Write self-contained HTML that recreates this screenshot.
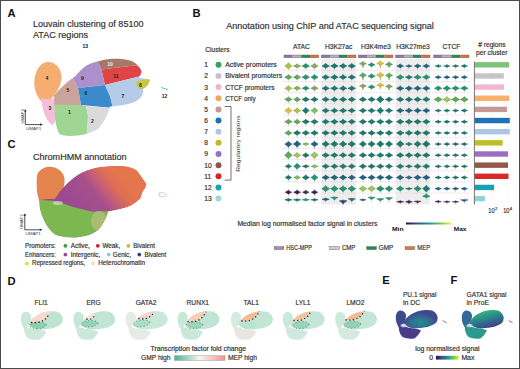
<!DOCTYPE html>
<html><head><meta charset="utf-8"><style>
html,body{margin:0;padding:0;background:#fff;}
body{width:520px;height:369px;overflow:hidden;}
svg{display:block;}
text{font-family:"Liberation Sans",sans-serif;}
</style></head><body>
<svg width="520" height="369" viewBox="0 0 520 369">
<rect x="0" y="0" width="520" height="369" fill="#fff"/>
<defs>
<linearGradient id="vir" x1="0" x2="1" y1="0" y2="0">
<stop offset="0" stop-color="#440154"/><stop offset="0.25" stop-color="#3b528b"/><stop offset="0.5" stop-color="#21918c"/><stop offset="0.75" stop-color="#5ec962"/><stop offset="1" stop-color="#fde725"/></linearGradient>
<linearGradient id="foldg" x1="0" x2="1" y1="0" y2="0">
<stop offset="0" stop-color="#48b288"/><stop offset="0.5" stop-color="#f5f6f2"/><stop offset="1" stop-color="#f0968a"/></linearGradient>
<radialGradient id="gE" cx="0.5" cy="0.68" r="0.5" fx="0.5" fy="0.7">
<stop offset="0" stop-color="#23908e"/><stop offset="0.45" stop-color="#2d7490"/><stop offset="1" stop-color="#3e4a8e"/></radialGradient>
<linearGradient id="gF" x1="0.25" x2="0.75" y1="0" y2="1">
<stop offset="0" stop-color="#52b878"/><stop offset="0.3" stop-color="#2aa082"/><stop offset="0.6" stop-color="#2f6f8e"/><stop offset="1" stop-color="#45357f"/></linearGradient>
<filter id="soft" x="-10%" y="-10%" width="120%" height="120%"><feGaussianBlur stdDeviation="0.7"/></filter>
<filter id="soft2" x="-10%" y="-10%" width="120%" height="120%"><feGaussianBlur stdDeviation="0.5"/></filter>
</defs>
<text x="7.6" y="17.2" font-size="11.2" font-weight="bold" fill="#111">A</text>
<text x="33" y="27" font-size="8.6" fill="#333" stroke="#333" stroke-width="0.18" textLength="110.5" lengthAdjust="spacingAndGlyphs">Louvain clustering of 85100</text>
<text x="33" y="37.5" font-size="8.6" fill="#333" stroke="#333" stroke-width="0.18" textLength="55" lengthAdjust="spacingAndGlyphs">ATAC regions</text>
<clipPath id="silA"><path d="M54,95.5 C60,88 68,81 75,76.5 C79,72 82,68.5 86,65.8 C90,63.5 94,62.2 98.5,61.2 C102,60.3 105,59.6 108,59.2 C116,58.5 124,58.8 130,60.5 C134,61.6 136,63.5 138,66 C140,68 141.5,70 141.5,72 C141,74 140,75.5 139,77.5 C142,78.6 146,78.5 149.5,79.5 C150,83 147,87 143,89 C144,93 142,97 138,100 C132,104 120,106 110,106.5 C108.5,113 105,121 99,128 C94,132 86,134.5 78,135.5 C70,136.5 63,136 59,134 C57.5,130 55.5,124 55,118 C54.8,110 54.3,102 54,95.5 Z"/></clipPath>
<g filter="url(#soft)">
<path d="M47.5,62 C55,61.5 61,68 61.5,76 C62,84 57,92 52,98 C49,101.5 46,103.5 43,103 C39,99 35,93 34.5,86 C33.5,76 38,62.5 47.5,62 Z" fill="#f6ad70"/>
<path d="M41.5,98 C46,99.5 52,99 57.5,98.5 C58.5,106 58,116 53,125.5 C47,122 44,114 42.5,107 C41.8,104 41.4,101 41.5,98 Z" fill="#f2c0d6"/>
<g clip-path="url(#silA)">
<polygon points="30,60 74,60 72,77 78,88 81,105 30,106" fill="#caa39c"/>
<polygon points="60,40 95,40 97,60 101.5,69.5 105,85 78,88 72,77" fill="#ab90cb"/>
<polygon points="95,40 170,40 170,63 134,65.5 101.5,69.5 97,60" fill="#a7776b"/>
<polygon points="101.5,69.5 134,65.5 170,63 170,76 139,76.5 105,85" fill="#e04545"/>
<polygon points="78,88 105,85 110,96 113,108 81,105" fill="#3b8bcc"/>
<polygon points="105,85 139,76.5 170,78 170,115 113,108 110,96" fill="#b5cce8"/>
<polygon points="30,104 81,105 86,106 88,116 87,140 30,140" fill="#9fd694"/>
<polygon points="86,106 113,108 140,110 140,140 87,140 88,116" fill="#dadadc"/>
<path d="M136,82 C140,80 146,78.5 150,79.5 C150,84 146,87.5 141,89.5 C138,88 136,85 136,82 Z" fill="#c9c640"/>
</g>
<path d="M161,87.5 L168,89.5" stroke="#6cc4d4" stroke-width="1"/>
</g>
<text x="85.3" y="47.7" font-size="5.0" font-weight="bold" text-anchor="middle" fill="#111">13</text>
<text x="47" y="79.5" font-size="5.0" font-weight="bold" text-anchor="middle" fill="#222">4</text>
<text x="50" y="109.5" font-size="5.0" font-weight="bold" text-anchor="middle" fill="#222">3</text>
<text x="69.5" y="113.5" font-size="5.0" font-weight="bold" text-anchor="middle" fill="#222">1</text>
<text x="68" y="91.5" font-size="5.0" font-weight="bold" text-anchor="middle" fill="#222">5</text>
<text x="82.5" y="79.8" font-size="5.0" font-weight="bold" text-anchor="middle" fill="#222">9</text>
<text x="86" y="95" font-size="5.0" font-weight="bold" text-anchor="middle" fill="#222">6</text>
<text x="92.5" y="122.5" font-size="5.0" font-weight="bold" text-anchor="middle" fill="#222">2</text>
<text x="110" y="66" font-size="5.0" font-weight="bold" text-anchor="middle" fill="#eee">10</text>
<text x="116" y="78" font-size="5.0" font-weight="bold" text-anchor="middle" fill="#222">11</text>
<text x="123" y="97.5" font-size="5.0" font-weight="bold" text-anchor="middle" fill="#222">7</text>
<text x="140.5" y="86.5" font-size="5.0" font-weight="bold" text-anchor="middle" fill="#222">8</text>
<text x="164.5" y="97.5" font-size="5.0" font-weight="bold" text-anchor="middle" fill="#222">12</text>
<path d="M25.3,109.6 L25.3,124.6 L42.3,124.6" fill="none" stroke="#222" stroke-width="0.8"/>
<path d="M24.0,111.6 L25.3,109.6 L26.6,111.6 Z" fill="#222"/>
<path d="M40.3,123.3 L42.3,124.6 L40.3,125.89999999999999 Z" fill="#222"/>
<text x="25.900000000000002" y="130.2" font-size="3.7" fill="#444" textLength="15.5" lengthAdjust="spacingAndGlyphs">UMAP1</text>
<text transform="translate(23.900000000000002,123.6) rotate(-90)" font-size="3.7" fill="#444" textLength="14.6" lengthAdjust="spacingAndGlyphs">UMAP2</text>
<text x="7.6" y="147.8" font-size="11.2" font-weight="bold" fill="#111">C</text>
<text x="33" y="159.8" font-size="8.6" fill="#333" stroke="#333" stroke-width="0.18" textLength="93.5" lengthAdjust="spacingAndGlyphs">ChromHMM annotation</text>
<clipPath id="silC"><path d="M55,198.5 C60,190 66,184 72,179 C78,174 85,170 92.5,168.4 C100,166.5 110,165.5 120,165.8 C128,166 134,168 137,170.5 C140,174 143,179 146.6,184 C146,188 144,190 143,191.3 C142,194 141.5,196 140.6,198.5 C137,202 134,204 131,205.7 C124,208.5 116,210.5 108,211.5 C107,216 104,223 99,229 C94,234 86,236.5 78,237.2 C70,237.8 62,237 56,235 C50,231 46,225 43,218 C40,211 39,205 39.6,199.7 C45,199 50,199 55,198.5 Z"/></clipPath>
<linearGradient id="gC" gradientUnits="userSpaceOnUse" x1="74" y1="208" x2="118" y2="172"><stop offset="0" stop-color="#9c4a92"/><stop offset="0.45" stop-color="#a6508c"/><stop offset="0.62" stop-color="#c45e78"/><stop offset="0.8" stop-color="#de6e54"/><stop offset="1" stop-color="#e4764e"/></linearGradient>
<g filter="url(#soft)">
<path d="M49.2,166.8 C56,166.6 62,170.5 64,176.5 C65.5,182 64,188 61.5,192 C59.5,196 57,199 55,201.5 C50,202.5 44,202.5 39.5,201.5 C37.5,196 36.8,191 36.8,186.4 C36.5,181 36.6,177 37.4,174 C40,169.5 44,166.9 49.2,166.8 Z" fill="#e4854f"/>
<g clip-path="url(#silC)">
<path d="M55,198.5 C60,190 66,184 72,179 C78,174 85,170 92.5,168.4 C100,166.5 110,165.5 120,165.8 C128,166 134,168 137,170.5 C140,174 143,179 146.6,184 C146,188 144,190 143,191.3 C142,194 141.5,196 140.6,198.5 C137,202 134,204 131,205.7 C124,208.5 116,210.5 108,211.5 C107,216 104,223 99,229 C94,234 86,236.5 78,237.2 C70,237.8 62,237 56,235 C50,231 46,225 43,218 C40,211 39,205 39.6,199.7 C45,199 50,199 55,198.5 Z" fill="url(#gC)"/>
<polygon points="30,199 55,200.9 73.3,207 92.5,211.7 112,211 112,245 30,245" fill="#7cb74f"/>
<ellipse cx="99" cy="221" rx="8" ry="10" fill="#a9bd72"/>
<ellipse cx="58" cy="203" rx="5" ry="2" fill="#eeeede" opacity="0.55"/>
</g></g>
<path d="M159,193 C162,192 165,193 167,195 C165,197 162,197 159,196 Z" fill="none" stroke="#d8b8a8" stroke-width="0.7"/>
<path d="M24.8,213.8 L24.8,229.8 L41.8,229.8" fill="none" stroke="#222" stroke-width="0.8"/>
<path d="M23.5,215.8 L24.8,213.8 L26.1,215.8 Z" fill="#222"/>
<path d="M39.8,228.5 L41.8,229.8 L39.8,231.10000000000002 Z" fill="#222"/>
<text x="25.400000000000002" y="235.4" font-size="3.7" fill="#444" textLength="15.5" lengthAdjust="spacingAndGlyphs">UMAP1</text>
<text transform="translate(23.400000000000002,228.8) rotate(-90)" font-size="3.7" fill="#444" textLength="14.6" lengthAdjust="spacingAndGlyphs">UMAP2</text>
<text x="25" y="247.8" font-size="6.3" fill="#333" stroke="#333" stroke-width="0.18" textLength="30.8" lengthAdjust="spacingAndGlyphs">Promoters:</text>
<text x="25" y="256.6" font-size="6.3" fill="#333" stroke="#333" stroke-width="0.18" textLength="30.8" lengthAdjust="spacingAndGlyphs">Enhancers:</text>
<circle cx="65.4" cy="245.8" r="1.9" fill="#3a9a40"/>
<text x="70.8" y="247.8" font-size="6.3" fill="#333" stroke="#333" stroke-width="0.18">Active,</text>
<circle cx="97.8" cy="245.8" r="1.9" fill="#d0202a"/>
<text x="102.5" y="247.8" font-size="6.3" fill="#333" stroke="#333" stroke-width="0.18">Weak,</text>
<circle cx="128.4" cy="245.8" r="1.9" fill="#d8b040"/>
<text x="133.3" y="247.8" font-size="6.3" fill="#333" stroke="#333" stroke-width="0.18" textLength="21.7" lengthAdjust="spacingAndGlyphs">Bivalent</text>
<circle cx="65.4" cy="254.60000000000002" r="1.9" fill="#a0409a"/>
<text x="70.8" y="256.6" font-size="6.3" fill="#333" stroke="#333" stroke-width="0.18">Intergenic,</text>
<circle cx="108.7" cy="254.60000000000002" r="1.9" fill="#8cc8d8"/>
<text x="112.8" y="256.6" font-size="6.3" fill="#333" stroke="#333" stroke-width="0.18">Genic,</text>
<circle cx="139.3" cy="254.60000000000002" r="1.9" fill="#283c90"/>
<text x="144.5" y="256.6" font-size="6.3" fill="#333" stroke="#333" stroke-width="0.18" textLength="21.7" lengthAdjust="spacingAndGlyphs">Bivalent</text>
<circle cx="26.8" cy="263.4" r="1.9" fill="#e8e020"/>
<text x="32" y="265.4" font-size="6.3" fill="#333" stroke="#333" stroke-width="0.18" textLength="53" lengthAdjust="spacingAndGlyphs">Repressed regions,</text>
<circle cx="93.2" cy="263.4" r="1.9" fill="#f8d8c8"/>
<text x="98.3" y="265.4" font-size="6.3" fill="#333" stroke="#333" stroke-width="0.18" textLength="46.7" lengthAdjust="spacingAndGlyphs">Heterochromatin</text>
<text x="192.5" y="17.3" font-size="11.2" font-weight="bold" fill="#111">B</text>
<text x="226.2" y="28.8" font-size="8.7" fill="#333" stroke="#333" stroke-width="0.18" textLength="207.6" lengthAdjust="spacingAndGlyphs">Annotation using ChIP and ATAC sequencing signal</text>
<text x="205.2" y="51.5" font-size="6.7" fill="#333" stroke="#333" stroke-width="0.18" textLength="24.4" lengthAdjust="spacingAndGlyphs">Clusters</text>
<rect x="321.3" y="58.8" width="34.69999999999999" height="145.7" fill="#eeeeee"/>
<rect x="395.8" y="58.8" width="34.19999999999999" height="145.7" fill="#eeeeee"/>
<line x1="283" y1="70.40" x2="470" y2="70.40" stroke="#efd9de" stroke-width="0.6"/>
<line x1="283" y1="81.55" x2="470" y2="81.55" stroke="#efd9de" stroke-width="0.6"/>
<line x1="283" y1="92.70" x2="470" y2="92.70" stroke="#efd9de" stroke-width="0.6"/>
<line x1="283" y1="103.85" x2="470" y2="103.85" stroke="#efd9de" stroke-width="0.6"/>
<line x1="283" y1="115.00" x2="470" y2="115.00" stroke="#efd9de" stroke-width="0.6"/>
<line x1="283" y1="126.15" x2="470" y2="126.15" stroke="#efd9de" stroke-width="0.6"/>
<line x1="283" y1="137.30" x2="470" y2="137.30" stroke="#efd9de" stroke-width="0.6"/>
<line x1="283" y1="148.45" x2="470" y2="148.45" stroke="#efd9de" stroke-width="0.6"/>
<line x1="283" y1="159.60" x2="470" y2="159.60" stroke="#efd9de" stroke-width="0.6"/>
<line x1="283" y1="170.75" x2="470" y2="170.75" stroke="#efd9de" stroke-width="0.6"/>
<line x1="283" y1="181.90" x2="470" y2="181.90" stroke="#efd9de" stroke-width="0.6"/>
<line x1="283" y1="193.05" x2="470" y2="193.05" stroke="#efd9de" stroke-width="0.6"/>
<text x="301.35" y="48.9" font-size="6.7" text-anchor="middle" fill="#333" stroke="#333" stroke-width="0.18">ATAC</text>
<rect x="284.00" y="55" width="8.67" height="2.8" fill="#8d7aa6"/>
<rect x="292.68" y="55" width="8.67" height="2.8" fill="#b7b0bd"/>
<rect x="301.35" y="55" width="8.67" height="2.8" fill="#1f8a5a"/>
<rect x="310.02" y="55" width="8.67" height="2.8" fill="#d8733a"/>
<rect x="284" y="55" width="34.70" height="2.8" fill="none" stroke="#6a6060" stroke-width="0.4"/>
<text x="338.65" y="48.9" font-size="6.7" text-anchor="middle" fill="#333" stroke="#333" stroke-width="0.18">H3K27ac</text>
<rect x="321.30" y="55" width="8.67" height="2.8" fill="#8d7aa6"/>
<rect x="329.98" y="55" width="8.67" height="2.8" fill="#b7b0bd"/>
<rect x="338.65" y="55" width="8.67" height="2.8" fill="#1f8a5a"/>
<rect x="347.32" y="55" width="8.67" height="2.8" fill="#d8733a"/>
<rect x="321.3" y="55" width="34.70" height="2.8" fill="none" stroke="#6a6060" stroke-width="0.4"/>
<text x="375.75" y="48.9" font-size="6.7" text-anchor="middle" fill="#333" stroke="#333" stroke-width="0.18">H3K4me3</text>
<rect x="358.50" y="55" width="8.62" height="2.8" fill="#8d7aa6"/>
<rect x="367.12" y="55" width="8.62" height="2.8" fill="#b7b0bd"/>
<rect x="375.75" y="55" width="8.62" height="2.8" fill="#1f8a5a"/>
<rect x="384.38" y="55" width="8.62" height="2.8" fill="#d8733a"/>
<rect x="358.5" y="55" width="34.50" height="2.8" fill="none" stroke="#6a6060" stroke-width="0.4"/>
<text x="412.9" y="48.9" font-size="6.7" text-anchor="middle" fill="#333" stroke="#333" stroke-width="0.18">H3K27me3</text>
<rect x="395.80" y="55" width="8.55" height="2.8" fill="#8d7aa6"/>
<rect x="404.35" y="55" width="8.55" height="2.8" fill="#b7b0bd"/>
<rect x="412.90" y="55" width="8.55" height="2.8" fill="#1f8a5a"/>
<rect x="421.45" y="55" width="8.55" height="2.8" fill="#d8733a"/>
<rect x="395.8" y="55" width="34.20" height="2.8" fill="none" stroke="#6a6060" stroke-width="0.4"/>
<text x="451.4" y="48.9" font-size="6.7" text-anchor="middle" fill="#333" stroke="#333" stroke-width="0.18">CTCF</text>
<rect x="433.80" y="55" width="8.80" height="2.8" fill="#8d7aa6"/>
<rect x="442.60" y="55" width="8.80" height="2.8" fill="#b7b0bd"/>
<rect x="451.40" y="55" width="8.80" height="2.8" fill="#1f8a5a"/>
<rect x="460.20" y="55" width="8.80" height="2.8" fill="#d8733a"/>
<rect x="433.8" y="55" width="35.20" height="2.8" fill="none" stroke="#6a6060" stroke-width="0.4"/>
<line x1="288.40" y1="61.80" x2="288.40" y2="71.40" stroke="#a6c63c" stroke-width="0.35" opacity="0.6"/>
<path d="M284.84,66.00 C286.44,65.04 287.62,63.70 288.40,62.80 C289.18,63.70 290.36,65.04 291.96,66.00 C290.36,66.96 289.18,68.30 288.40,69.20 C287.62,68.30 286.44,66.96 284.84,66.00 Z" fill="#a6c63c" stroke="#778e2b" stroke-width="0.45"/>
<line x1="297.10" y1="63.00" x2="297.10" y2="70.20" stroke="#8db44e" stroke-width="0.35" opacity="0.6"/>
<path d="M293.32,66.00 C295.02,65.40 296.27,64.56 297.10,64.00 C297.93,64.56 299.18,65.40 300.88,66.00 C299.18,66.60 297.93,67.44 297.10,68.00 C296.27,67.44 295.02,66.60 293.32,66.00 Z" fill="#8db44e" stroke="#658138" stroke-width="0.45"/>
<line x1="305.80" y1="62.60" x2="305.80" y2="70.60" stroke="#22966f" stroke-width="0.35" opacity="0.6"/>
<path d="M302.00,66.00 C303.71,65.28 304.96,64.27 305.80,63.60 C306.64,64.27 307.89,65.28 309.60,66.00 C307.89,66.72 306.64,67.73 305.80,68.40 C304.96,67.73 303.71,66.72 302.00,66.00 Z" fill="#22966f" stroke="#186c4f" stroke-width="0.45"/>
<line x1="314.50" y1="62.40" x2="314.50" y2="70.80" stroke="#8aa862" stroke-width="0.35" opacity="0.6"/>
<path d="M310.83,66.00 C312.48,65.22 313.69,64.13 314.50,63.40 C315.31,64.13 316.52,65.22 318.17,66.00 C316.52,66.78 315.31,67.87 314.50,68.60 C313.69,67.87 312.48,66.78 310.83,66.00 Z" fill="#8aa862" stroke="#637846" stroke-width="0.45"/>
<line x1="325.70" y1="62.60" x2="325.70" y2="70.60" stroke="#197a6e" stroke-width="0.35" opacity="0.6"/>
<path d="M321.90,66.00 C323.61,65.28 324.86,64.27 325.70,63.60 C326.54,64.27 327.79,65.28 329.50,66.00 C327.79,66.72 326.54,67.73 325.70,68.40 C324.86,67.73 323.61,66.72 321.90,66.00 Z" fill="#197a6e" stroke="#12574f" stroke-width="0.45"/>
<line x1="334.40" y1="62.60" x2="334.40" y2="70.60" stroke="#197a6e" stroke-width="0.35" opacity="0.6"/>
<path d="M330.60,66.00 C332.31,65.28 333.56,64.27 334.40,63.60 C335.24,64.27 336.49,65.28 338.20,66.00 C336.49,66.72 335.24,67.73 334.40,68.40 C333.56,67.73 332.31,66.72 330.60,66.00 Z" fill="#197a6e" stroke="#12574f" stroke-width="0.45"/>
<line x1="343.10" y1="62.60" x2="343.10" y2="70.60" stroke="#197a6e" stroke-width="0.35" opacity="0.6"/>
<path d="M339.30,66.00 C341.01,65.28 342.26,64.27 343.10,63.60 C343.94,64.27 345.19,65.28 346.90,66.00 C345.19,66.72 343.94,67.73 343.10,68.40 C342.26,67.73 341.01,66.72 339.30,66.00 Z" fill="#197a6e" stroke="#12574f" stroke-width="0.45"/>
<line x1="351.80" y1="62.60" x2="351.80" y2="70.60" stroke="#197a6e" stroke-width="0.35" opacity="0.6"/>
<path d="M348.00,66.00 C349.71,65.28 350.96,64.27 351.80,63.60 C352.64,64.27 353.89,65.28 355.60,66.00 C353.89,66.72 352.64,67.73 351.80,68.40 C350.96,67.73 349.71,66.72 348.00,66.00 Z" fill="#197a6e" stroke="#12574f" stroke-width="0.45"/>
<path d="M362.20,64.44 L362.90,68.20 L363.60,64.44 Z" fill="#8aa862" stroke="#637846" stroke-width="0.3"/>
<line x1="362.90" y1="60.60" x2="362.90" y2="67.60" stroke="#8aa862" stroke-width="0.35" opacity="0.6"/>
<path d="M359.34,63.80 C360.94,63.14 362.12,62.22 362.90,61.60 C363.68,62.22 364.86,63.14 366.46,63.80 C364.86,64.28 363.68,64.95 362.90,65.40 C362.12,64.95 360.94,64.28 359.34,63.80 Z" fill="#8aa862" stroke="#637846" stroke-width="0.45"/>
<line x1="371.60" y1="61.80" x2="371.60" y2="69.00" stroke="#22966f" stroke-width="0.35" opacity="0.6"/>
<path d="M368.14,64.80 C369.70,64.20 370.84,63.36 371.60,62.80 C372.36,63.36 373.50,64.20 375.06,64.80 C373.50,65.40 372.36,66.24 371.60,66.80 C370.84,66.24 369.70,65.40 368.14,64.80 Z" fill="#22966f" stroke="#186c4f" stroke-width="0.45"/>
<path d="M379.60,64.32 L380.30,68.40 L381.00,64.32 Z" fill="#dcc23c" stroke="#9e8b2b" stroke-width="0.3"/>
<line x1="380.30" y1="60.00" x2="380.30" y2="67.60" stroke="#dcc23c" stroke-width="0.35" opacity="0.6"/>
<path d="M376.74,63.60 C378.34,62.82 379.52,61.73 380.30,61.00 C381.08,61.73 382.26,62.82 383.86,63.60 C382.26,64.14 381.08,64.90 380.30,65.40 C379.52,64.90 378.34,64.14 376.74,63.60 Z" fill="#dcc23c" stroke="#9e8b2b" stroke-width="0.45"/>
<path d="M388.30,65.12 L389.00,67.70 L389.70,65.12 Z" fill="#5aac58" stroke="#407b3f" stroke-width="0.3"/>
<line x1="389.00" y1="61.00" x2="389.00" y2="68.40" stroke="#5aac58" stroke-width="0.35" opacity="0.6"/>
<path d="M385.44,64.40 C387.04,63.68 388.22,62.67 389.00,62.00 C389.78,62.67 390.96,63.68 392.56,64.40 C390.96,64.94 389.78,65.70 389.00,66.20 C388.22,65.70 387.04,64.94 385.44,64.40 Z" fill="#5aac58" stroke="#407b3f" stroke-width="0.45"/>
<line x1="400.20" y1="63.00" x2="400.20" y2="70.20" stroke="#1f6383" stroke-width="0.35" opacity="0.6"/>
<path d="M396.74,66.00 C398.30,65.40 399.44,64.56 400.20,64.00 C400.96,64.56 402.10,65.40 403.66,66.00 C402.10,66.60 400.96,67.44 400.20,68.00 C399.44,67.44 398.30,66.60 396.74,66.00 Z" fill="#1f6383" stroke="#16475e" stroke-width="0.45"/>
<line x1="408.90" y1="63.70" x2="408.90" y2="69.50" stroke="#1f6383" stroke-width="0.35" opacity="0.6"/>
<path d="M405.66,66.00 C407.12,65.61 408.19,65.06 408.90,64.70 C409.61,65.06 410.68,65.61 412.14,66.00 C410.68,66.39 409.61,66.94 408.90,67.30 C408.19,66.94 407.12,66.39 405.66,66.00 Z" fill="#1f6383" stroke="#16475e" stroke-width="0.45"/>
<line x1="417.60" y1="63.00" x2="417.60" y2="70.20" stroke="#1f6383" stroke-width="0.35" opacity="0.6"/>
<path d="M414.14,66.00 C415.70,65.40 416.84,64.56 417.60,64.00 C418.36,64.56 419.50,65.40 421.06,66.00 C419.50,66.60 418.36,67.44 417.60,68.00 C416.84,67.44 415.70,66.60 414.14,66.00 Z" fill="#1f6383" stroke="#16475e" stroke-width="0.45"/>
<line x1="426.30" y1="63.00" x2="426.30" y2="70.20" stroke="#1f6383" stroke-width="0.35" opacity="0.6"/>
<path d="M422.84,66.00 C424.40,65.40 425.54,64.56 426.30,64.00 C427.06,64.56 428.20,65.40 429.76,66.00 C428.20,66.60 427.06,67.44 426.30,68.00 C425.54,67.44 424.40,66.60 422.84,66.00 Z" fill="#1f6383" stroke="#16475e" stroke-width="0.45"/>
<line x1="438.20" y1="63.70" x2="438.20" y2="69.50" stroke="#197a6e" stroke-width="0.35" opacity="0.6"/>
<path d="M434.96,66.00 C436.42,65.61 437.49,65.06 438.20,64.70 C438.91,65.06 439.98,65.61 441.44,66.00 C439.98,66.39 438.91,66.94 438.20,67.30 C437.49,66.94 436.42,66.39 434.96,66.00 Z" fill="#197a6e" stroke="#12574f" stroke-width="0.45"/>
<line x1="446.90" y1="63.70" x2="446.90" y2="69.50" stroke="#197a6e" stroke-width="0.35" opacity="0.6"/>
<path d="M443.66,66.00 C445.12,65.61 446.19,65.06 446.90,64.70 C447.61,65.06 448.68,65.61 450.14,66.00 C448.68,66.39 447.61,66.94 446.90,67.30 C446.19,66.94 445.12,66.39 443.66,66.00 Z" fill="#197a6e" stroke="#12574f" stroke-width="0.45"/>
<line x1="455.60" y1="63.70" x2="455.60" y2="69.50" stroke="#197a6e" stroke-width="0.35" opacity="0.6"/>
<path d="M452.36,66.00 C453.82,65.61 454.89,65.06 455.60,64.70 C456.31,65.06 457.38,65.61 458.84,66.00 C457.38,66.39 456.31,66.94 455.60,67.30 C454.89,66.94 453.82,66.39 452.36,66.00 Z" fill="#197a6e" stroke="#12574f" stroke-width="0.45"/>
<line x1="464.30" y1="63.50" x2="464.30" y2="69.70" stroke="#197a6e" stroke-width="0.35" opacity="0.6"/>
<path d="M461.06,66.00 C462.52,65.55 463.59,64.92 464.30,64.50 C465.01,64.92 466.08,65.55 467.54,66.00 C466.08,66.45 465.01,67.08 464.30,67.50 C463.59,67.08 462.52,66.45 461.06,66.00 Z" fill="#197a6e" stroke="#12574f" stroke-width="0.45"/>
<line x1="288.40" y1="73.75" x2="288.40" y2="81.75" stroke="#5aac58" stroke-width="0.35" opacity="0.6"/>
<path d="M284.60,77.15 C286.31,76.43 287.56,75.42 288.40,74.75 C289.24,75.42 290.49,76.43 292.20,77.15 C290.49,77.87 289.24,78.88 288.40,79.55 C287.56,78.88 286.31,77.87 284.60,77.15 Z" fill="#5aac58" stroke="#407b3f" stroke-width="0.45"/>
<line x1="297.10" y1="73.75" x2="297.10" y2="81.75" stroke="#5aac58" stroke-width="0.35" opacity="0.6"/>
<path d="M293.43,77.15 C295.08,76.43 296.29,75.42 297.10,74.75 C297.91,75.42 299.12,76.43 300.77,77.15 C299.12,77.87 297.91,78.88 297.10,79.55 C296.29,78.88 295.08,77.87 293.43,77.15 Z" fill="#5aac58" stroke="#407b3f" stroke-width="0.45"/>
<line x1="305.80" y1="73.75" x2="305.80" y2="81.75" stroke="#22966f" stroke-width="0.35" opacity="0.6"/>
<path d="M302.00,77.15 C303.71,76.43 304.96,75.42 305.80,74.75 C306.64,75.42 307.89,76.43 309.60,77.15 C307.89,77.87 306.64,78.88 305.80,79.55 C304.96,78.88 303.71,77.87 302.00,77.15 Z" fill="#22966f" stroke="#186c4f" stroke-width="0.45"/>
<line x1="314.50" y1="73.55" x2="314.50" y2="81.95" stroke="#22966f" stroke-width="0.35" opacity="0.6"/>
<path d="M310.94,77.15 C312.54,76.37 313.72,75.28 314.50,74.55 C315.28,75.28 316.46,76.37 318.06,77.15 C316.46,77.93 315.28,79.02 314.50,79.75 C313.72,79.02 312.54,77.93 310.94,77.15 Z" fill="#22966f" stroke="#186c4f" stroke-width="0.45"/>
<line x1="325.70" y1="73.75" x2="325.70" y2="81.75" stroke="#197a6e" stroke-width="0.35" opacity="0.6"/>
<path d="M321.90,77.15 C323.61,76.43 324.86,75.42 325.70,74.75 C326.54,75.42 327.79,76.43 329.50,77.15 C327.79,77.87 326.54,78.88 325.70,79.55 C324.86,78.88 323.61,77.87 321.90,77.15 Z" fill="#197a6e" stroke="#12574f" stroke-width="0.45"/>
<line x1="334.40" y1="73.75" x2="334.40" y2="81.75" stroke="#197a6e" stroke-width="0.35" opacity="0.6"/>
<path d="M330.60,77.15 C332.31,76.43 333.56,75.42 334.40,74.75 C335.24,75.42 336.49,76.43 338.20,77.15 C336.49,77.87 335.24,78.88 334.40,79.55 C333.56,78.88 332.31,77.87 330.60,77.15 Z" fill="#197a6e" stroke="#12574f" stroke-width="0.45"/>
<line x1="343.10" y1="73.75" x2="343.10" y2="81.75" stroke="#197a6e" stroke-width="0.35" opacity="0.6"/>
<path d="M339.30,77.15 C341.01,76.43 342.26,75.42 343.10,74.75 C343.94,75.42 345.19,76.43 346.90,77.15 C345.19,77.87 343.94,78.88 343.10,79.55 C342.26,78.88 341.01,77.87 339.30,77.15 Z" fill="#197a6e" stroke="#12574f" stroke-width="0.45"/>
<line x1="351.80" y1="73.75" x2="351.80" y2="81.75" stroke="#197a6e" stroke-width="0.35" opacity="0.6"/>
<path d="M348.00,77.15 C349.71,76.43 350.96,75.42 351.80,74.75 C352.64,75.42 353.89,76.43 355.60,77.15 C353.89,77.87 352.64,78.88 351.80,79.55 C350.96,78.88 349.71,77.87 348.00,77.15 Z" fill="#197a6e" stroke="#12574f" stroke-width="0.45"/>
<path d="M362.20,76.15 L362.90,80.35 L363.60,76.15 Z" fill="#5aac58" stroke="#407b3f" stroke-width="0.3"/>
<line x1="362.90" y1="71.75" x2="362.90" y2="79.55" stroke="#5aac58" stroke-width="0.35" opacity="0.6"/>
<path d="M359.23,75.35 C360.88,74.57 362.09,73.48 362.90,72.75 C363.71,73.48 364.92,74.57 366.57,75.35 C364.92,75.95 363.71,76.79 362.90,77.35 C362.09,76.79 360.88,75.95 359.23,75.35 Z" fill="#5aac58" stroke="#407b3f" stroke-width="0.45"/>
<line x1="371.60" y1="72.75" x2="371.60" y2="80.55" stroke="#22966f" stroke-width="0.35" opacity="0.6"/>
<path d="M368.04,76.15 C369.64,75.43 370.82,74.42 371.60,73.75 C372.38,74.42 373.56,75.43 375.16,76.15 C373.56,76.81 372.38,77.73 371.60,78.35 C370.82,77.73 369.64,76.81 368.04,76.15 Z" fill="#22966f" stroke="#186c4f" stroke-width="0.45"/>
<path d="M379.60,75.95 L380.30,80.35 L381.00,75.95 Z" fill="#dcc23c" stroke="#9e8b2b" stroke-width="0.3"/>
<line x1="380.30" y1="71.35" x2="380.30" y2="79.35" stroke="#dcc23c" stroke-width="0.35" opacity="0.6"/>
<path d="M376.63,75.15 C378.28,74.31 379.49,73.13 380.30,72.35 C381.11,73.13 382.32,74.31 383.97,75.15 C382.32,75.75 381.11,76.59 380.30,77.15 C379.49,76.59 378.28,75.75 376.63,75.15 Z" fill="#dcc23c" stroke="#9e8b2b" stroke-width="0.45"/>
<path d="M388.30,76.35 L389.00,80.05 L389.70,76.35 Z" fill="#5aac58" stroke="#407b3f" stroke-width="0.3"/>
<line x1="389.00" y1="71.95" x2="389.00" y2="79.75" stroke="#5aac58" stroke-width="0.35" opacity="0.6"/>
<path d="M385.33,75.55 C386.98,74.77 388.19,73.68 389.00,72.95 C389.81,73.68 391.02,74.77 392.67,75.55 C391.02,76.15 389.81,76.99 389.00,77.55 C388.19,76.99 386.98,76.15 385.33,75.55 Z" fill="#5aac58" stroke="#407b3f" stroke-width="0.45"/>
<line x1="400.20" y1="73.75" x2="400.20" y2="81.75" stroke="#22966f" stroke-width="0.35" opacity="0.6"/>
<path d="M396.40,77.15 C398.11,76.43 399.36,75.42 400.20,74.75 C401.04,75.42 402.29,76.43 404.00,77.15 C402.29,77.87 401.04,78.88 400.20,79.55 C399.36,78.88 398.11,77.87 396.40,77.15 Z" fill="#22966f" stroke="#186c4f" stroke-width="0.45"/>
<line x1="408.90" y1="74.15" x2="408.90" y2="81.35" stroke="#197a6e" stroke-width="0.35" opacity="0.6"/>
<path d="M405.34,77.15 C406.94,76.55 408.12,75.71 408.90,75.15 C409.68,75.71 410.86,76.55 412.46,77.15 C410.86,77.75 409.68,78.59 408.90,79.15 C408.12,78.59 406.94,77.75 405.34,77.15 Z" fill="#197a6e" stroke="#12574f" stroke-width="0.45"/>
<line x1="417.60" y1="73.75" x2="417.60" y2="81.75" stroke="#22966f" stroke-width="0.35" opacity="0.6"/>
<path d="M413.80,77.15 C415.51,76.43 416.76,75.42 417.60,74.75 C418.44,75.42 419.69,76.43 421.40,77.15 C419.69,77.87 418.44,78.88 417.60,79.55 C416.76,78.88 415.51,77.87 413.80,77.15 Z" fill="#22966f" stroke="#186c4f" stroke-width="0.45"/>
<line x1="426.30" y1="73.75" x2="426.30" y2="81.75" stroke="#22966f" stroke-width="0.35" opacity="0.6"/>
<path d="M422.50,77.15 C424.21,76.43 425.46,75.42 426.30,74.75 C427.14,75.42 428.39,76.43 430.10,77.15 C428.39,77.87 427.14,78.88 426.30,79.55 C425.46,78.88 424.21,77.87 422.50,77.15 Z" fill="#22966f" stroke="#186c4f" stroke-width="0.45"/>
<line x1="438.20" y1="74.65" x2="438.20" y2="80.85" stroke="#1f6383" stroke-width="0.35" opacity="0.6"/>
<path d="M434.96,77.15 C436.42,76.70 437.49,76.07 438.20,75.65 C438.91,76.07 439.98,76.70 441.44,77.15 C439.98,77.60 438.91,78.23 438.20,78.65 C437.49,78.23 436.42,77.60 434.96,77.15 Z" fill="#1f6383" stroke="#16475e" stroke-width="0.45"/>
<line x1="446.90" y1="74.65" x2="446.90" y2="80.85" stroke="#1f6383" stroke-width="0.35" opacity="0.6"/>
<path d="M443.66,77.15 C445.12,76.70 446.19,76.07 446.90,75.65 C447.61,76.07 448.68,76.70 450.14,77.15 C448.68,77.60 447.61,78.23 446.90,78.65 C446.19,78.23 445.12,77.60 443.66,77.15 Z" fill="#1f6383" stroke="#16475e" stroke-width="0.45"/>
<line x1="455.60" y1="74.65" x2="455.60" y2="80.85" stroke="#1f6383" stroke-width="0.35" opacity="0.6"/>
<path d="M452.36,77.15 C453.82,76.70 454.89,76.07 455.60,75.65 C456.31,76.07 457.38,76.70 458.84,77.15 C457.38,77.60 456.31,78.23 455.60,78.65 C454.89,78.23 453.82,77.60 452.36,77.15 Z" fill="#1f6383" stroke="#16475e" stroke-width="0.45"/>
<line x1="464.30" y1="74.65" x2="464.30" y2="80.85" stroke="#1f6383" stroke-width="0.35" opacity="0.6"/>
<path d="M461.06,77.15 C462.52,76.70 463.59,76.07 464.30,75.65 C465.01,76.07 466.08,76.70 467.54,77.15 C466.08,77.60 465.01,78.23 464.30,78.65 C463.59,78.23 462.52,77.60 461.06,77.15 Z" fill="#1f6383" stroke="#16475e" stroke-width="0.45"/>
<line x1="288.40" y1="84.70" x2="288.40" y2="93.10" stroke="#a6c63c" stroke-width="0.35" opacity="0.6"/>
<path d="M284.84,88.30 C286.44,87.52 287.62,86.43 288.40,85.70 C289.18,86.43 290.36,87.52 291.96,88.30 C290.36,89.08 289.18,90.17 288.40,90.90 C287.62,90.17 286.44,89.08 284.84,88.30 Z" fill="#a6c63c" stroke="#778e2b" stroke-width="0.45"/>
<line x1="297.10" y1="85.10" x2="297.10" y2="92.70" stroke="#8db44e" stroke-width="0.35" opacity="0.6"/>
<path d="M293.43,88.30 C295.08,87.64 296.29,86.72 297.10,86.10 C297.91,86.72 299.12,87.64 300.77,88.30 C299.12,88.96 297.91,89.88 297.10,90.50 C296.29,89.88 295.08,88.96 293.43,88.30 Z" fill="#8db44e" stroke="#658138" stroke-width="0.45"/>
<line x1="305.80" y1="85.10" x2="305.80" y2="92.70" stroke="#22966f" stroke-width="0.35" opacity="0.6"/>
<path d="M302.24,88.30 C303.84,87.64 305.02,86.72 305.80,86.10 C306.58,86.72 307.76,87.64 309.36,88.30 C307.76,88.96 306.58,89.88 305.80,90.50 C305.02,89.88 303.84,88.96 302.24,88.30 Z" fill="#22966f" stroke="#186c4f" stroke-width="0.45"/>
<line x1="314.50" y1="85.10" x2="314.50" y2="92.70" stroke="#8aa862" stroke-width="0.35" opacity="0.6"/>
<path d="M310.83,88.30 C312.48,87.64 313.69,86.72 314.50,86.10 C315.31,86.72 316.52,87.64 318.17,88.30 C316.52,88.96 315.31,89.88 314.50,90.50 C313.69,89.88 312.48,88.96 310.83,88.30 Z" fill="#8aa862" stroke="#637846" stroke-width="0.45"/>
<line x1="325.70" y1="84.90" x2="325.70" y2="92.90" stroke="#197a6e" stroke-width="0.35" opacity="0.6"/>
<path d="M321.90,88.30 C323.61,87.58 324.86,86.57 325.70,85.90 C326.54,86.57 327.79,87.58 329.50,88.30 C327.79,89.02 326.54,90.03 325.70,90.70 C324.86,90.03 323.61,89.02 321.90,88.30 Z" fill="#197a6e" stroke="#12574f" stroke-width="0.45"/>
<line x1="334.40" y1="84.90" x2="334.40" y2="92.90" stroke="#197a6e" stroke-width="0.35" opacity="0.6"/>
<path d="M330.60,88.30 C332.31,87.58 333.56,86.57 334.40,85.90 C335.24,86.57 336.49,87.58 338.20,88.30 C336.49,89.02 335.24,90.03 334.40,90.70 C333.56,90.03 332.31,89.02 330.60,88.30 Z" fill="#197a6e" stroke="#12574f" stroke-width="0.45"/>
<line x1="343.10" y1="84.90" x2="343.10" y2="92.90" stroke="#197a6e" stroke-width="0.35" opacity="0.6"/>
<path d="M339.30,88.30 C341.01,87.58 342.26,86.57 343.10,85.90 C343.94,86.57 345.19,87.58 346.90,88.30 C345.19,89.02 343.94,90.03 343.10,90.70 C342.26,90.03 341.01,89.02 339.30,88.30 Z" fill="#197a6e" stroke="#12574f" stroke-width="0.45"/>
<line x1="351.80" y1="84.90" x2="351.80" y2="92.90" stroke="#197a6e" stroke-width="0.35" opacity="0.6"/>
<path d="M348.00,88.30 C349.71,87.58 350.96,86.57 351.80,85.90 C352.64,86.57 353.89,87.58 355.60,88.30 C353.89,89.02 352.64,90.03 351.80,90.70 C350.96,90.03 349.71,89.02 348.00,88.30 Z" fill="#197a6e" stroke="#12574f" stroke-width="0.45"/>
<path d="M362.20,86.74 L362.90,90.10 L363.60,86.74 Z" fill="#8aa862" stroke="#637846" stroke-width="0.3"/>
<line x1="362.90" y1="82.90" x2="362.90" y2="89.90" stroke="#8aa862" stroke-width="0.35" opacity="0.6"/>
<path d="M359.34,86.10 C360.94,85.44 362.12,84.52 362.90,83.90 C363.68,84.52 364.86,85.44 366.46,86.10 C364.86,86.58 363.68,87.25 362.90,87.70 C362.12,87.25 360.94,86.58 359.34,86.10 Z" fill="#8aa862" stroke="#637846" stroke-width="0.45"/>
<line x1="371.60" y1="83.90" x2="371.60" y2="91.10" stroke="#22966f" stroke-width="0.35" opacity="0.6"/>
<path d="M368.14,86.90 C369.70,86.30 370.84,85.46 371.60,84.90 C372.36,85.46 373.50,86.30 375.06,86.90 C373.50,87.50 372.36,88.34 371.60,88.90 C370.84,88.34 369.70,87.50 368.14,86.90 Z" fill="#22966f" stroke="#186c4f" stroke-width="0.45"/>
<path d="M379.60,85.94 L380.30,89.10 L381.00,85.94 Z" fill="#dcc23c" stroke="#9e8b2b" stroke-width="0.3"/>
<line x1="380.30" y1="82.10" x2="380.30" y2="89.10" stroke="#dcc23c" stroke-width="0.35" opacity="0.6"/>
<path d="M376.63,85.30 C378.28,84.64 379.49,83.72 380.30,83.10 C381.11,83.72 382.32,84.64 383.97,85.30 C382.32,85.78 381.11,86.45 380.30,86.90 C379.49,86.45 378.28,85.78 376.63,85.30 Z" fill="#dcc23c" stroke="#9e8b2b" stroke-width="0.45"/>
<path d="M388.30,87.22 L389.00,90.30 L389.70,87.22 Z" fill="#8aa862" stroke="#637846" stroke-width="0.3"/>
<line x1="389.00" y1="83.30" x2="389.00" y2="90.50" stroke="#8aa862" stroke-width="0.35" opacity="0.6"/>
<path d="M385.44,86.50 C387.04,85.84 388.22,84.92 389.00,84.30 C389.78,84.92 390.96,85.84 392.56,86.50 C390.96,87.04 389.78,87.80 389.00,88.30 C388.22,87.80 387.04,87.04 385.44,86.50 Z" fill="#8aa862" stroke="#637846" stroke-width="0.45"/>
<line x1="400.20" y1="84.90" x2="400.20" y2="92.90" stroke="#1f6383" stroke-width="0.35" opacity="0.6"/>
<path d="M396.40,88.30 C398.11,87.58 399.36,86.57 400.20,85.90 C401.04,86.57 402.29,87.58 404.00,88.30 C402.29,89.02 401.04,90.03 400.20,90.70 C399.36,90.03 398.11,89.02 396.40,88.30 Z" fill="#1f6383" stroke="#16475e" stroke-width="0.45"/>
<line x1="408.90" y1="84.90" x2="408.90" y2="92.90" stroke="#1f6383" stroke-width="0.35" opacity="0.6"/>
<path d="M405.10,88.30 C406.81,87.58 408.06,86.57 408.90,85.90 C409.74,86.57 410.99,87.58 412.70,88.30 C410.99,89.02 409.74,90.03 408.90,90.70 C408.06,90.03 406.81,89.02 405.10,88.30 Z" fill="#1f6383" stroke="#16475e" stroke-width="0.45"/>
<line x1="417.60" y1="84.90" x2="417.60" y2="92.90" stroke="#1f6383" stroke-width="0.35" opacity="0.6"/>
<path d="M413.80,88.30 C415.51,87.58 416.76,86.57 417.60,85.90 C418.44,86.57 419.69,87.58 421.40,88.30 C419.69,89.02 418.44,90.03 417.60,90.70 C416.76,90.03 415.51,89.02 413.80,88.30 Z" fill="#1f6383" stroke="#16475e" stroke-width="0.45"/>
<line x1="426.30" y1="84.90" x2="426.30" y2="92.90" stroke="#1f6383" stroke-width="0.35" opacity="0.6"/>
<path d="M422.50,88.30 C424.21,87.58 425.46,86.57 426.30,85.90 C427.14,86.57 428.39,87.58 430.10,88.30 C428.39,89.02 427.14,90.03 426.30,90.70 C425.46,90.03 424.21,89.02 422.50,88.30 Z" fill="#1f6383" stroke="#16475e" stroke-width="0.45"/>
<line x1="438.20" y1="85.10" x2="438.20" y2="92.70" stroke="#22966f" stroke-width="0.35" opacity="0.6"/>
<path d="M434.31,88.30 C436.06,87.64 437.34,86.72 438.20,86.10 C439.06,86.72 440.34,87.64 442.09,88.30 C440.34,88.96 439.06,89.88 438.20,90.50 C437.34,89.88 436.06,88.96 434.31,88.30 Z" fill="#22966f" stroke="#186c4f" stroke-width="0.45"/>
<line x1="446.90" y1="84.70" x2="446.90" y2="93.10" stroke="#22966f" stroke-width="0.35" opacity="0.6"/>
<path d="M443.01,88.30 C444.76,87.52 446.04,86.43 446.90,85.70 C447.76,86.43 449.04,87.52 450.79,88.30 C449.04,89.08 447.76,90.17 446.90,90.90 C446.04,90.17 444.76,89.08 443.01,88.30 Z" fill="#22966f" stroke="#186c4f" stroke-width="0.45"/>
<line x1="455.60" y1="85.10" x2="455.60" y2="92.70" stroke="#22966f" stroke-width="0.35" opacity="0.6"/>
<path d="M451.71,88.30 C453.46,87.64 454.74,86.72 455.60,86.10 C456.46,86.72 457.74,87.64 459.49,88.30 C457.74,88.96 456.46,89.88 455.60,90.50 C454.74,89.88 453.46,88.96 451.71,88.30 Z" fill="#22966f" stroke="#186c4f" stroke-width="0.45"/>
<line x1="464.30" y1="85.10" x2="464.30" y2="92.70" stroke="#22966f" stroke-width="0.35" opacity="0.6"/>
<path d="M460.41,88.30 C462.16,87.64 463.44,86.72 464.30,86.10 C465.16,86.72 466.44,87.64 468.19,88.30 C466.44,88.96 465.16,89.88 464.30,90.50 C463.44,89.88 462.16,88.96 460.41,88.30 Z" fill="#22966f" stroke="#186c4f" stroke-width="0.45"/>
<line x1="288.40" y1="96.05" x2="288.40" y2="104.05" stroke="#5aac58" stroke-width="0.35" opacity="0.6"/>
<path d="M284.60,99.45 C286.31,98.73 287.56,97.72 288.40,97.05 C289.24,97.72 290.49,98.73 292.20,99.45 C290.49,100.17 289.24,101.18 288.40,101.85 C287.56,101.18 286.31,100.17 284.60,99.45 Z" fill="#5aac58" stroke="#407b3f" stroke-width="0.45"/>
<line x1="297.10" y1="96.05" x2="297.10" y2="104.05" stroke="#5aac58" stroke-width="0.35" opacity="0.6"/>
<path d="M293.54,99.45 C295.14,98.73 296.32,97.72 297.10,97.05 C297.88,97.72 299.06,98.73 300.66,99.45 C299.06,100.17 297.88,101.18 297.10,101.85 C296.32,101.18 295.14,100.17 293.54,99.45 Z" fill="#5aac58" stroke="#407b3f" stroke-width="0.45"/>
<line x1="305.80" y1="96.05" x2="305.80" y2="104.05" stroke="#197a6e" stroke-width="0.35" opacity="0.6"/>
<path d="M302.00,99.45 C303.71,98.73 304.96,97.72 305.80,97.05 C306.64,97.72 307.89,98.73 309.60,99.45 C307.89,100.17 306.64,101.18 305.80,101.85 C304.96,101.18 303.71,100.17 302.00,99.45 Z" fill="#197a6e" stroke="#12574f" stroke-width="0.45"/>
<line x1="314.50" y1="96.05" x2="314.50" y2="104.05" stroke="#197a6e" stroke-width="0.35" opacity="0.6"/>
<path d="M310.70,99.45 C312.41,98.73 313.66,97.72 314.50,97.05 C315.34,97.72 316.59,98.73 318.30,99.45 C316.59,100.17 315.34,101.18 314.50,101.85 C313.66,101.18 312.41,100.17 310.70,99.45 Z" fill="#197a6e" stroke="#12574f" stroke-width="0.45"/>
<line x1="325.70" y1="96.05" x2="325.70" y2="104.05" stroke="#197a6e" stroke-width="0.35" opacity="0.6"/>
<path d="M321.90,99.45 C323.61,98.73 324.86,97.72 325.70,97.05 C326.54,97.72 327.79,98.73 329.50,99.45 C327.79,100.17 326.54,101.18 325.70,101.85 C324.86,101.18 323.61,100.17 321.90,99.45 Z" fill="#197a6e" stroke="#12574f" stroke-width="0.45"/>
<line x1="334.40" y1="96.05" x2="334.40" y2="104.05" stroke="#197a6e" stroke-width="0.35" opacity="0.6"/>
<path d="M330.60,99.45 C332.31,98.73 333.56,97.72 334.40,97.05 C335.24,97.72 336.49,98.73 338.20,99.45 C336.49,100.17 335.24,101.18 334.40,101.85 C333.56,101.18 332.31,100.17 330.60,99.45 Z" fill="#197a6e" stroke="#12574f" stroke-width="0.45"/>
<line x1="343.10" y1="96.05" x2="343.10" y2="104.05" stroke="#197a6e" stroke-width="0.35" opacity="0.6"/>
<path d="M339.30,99.45 C341.01,98.73 342.26,97.72 343.10,97.05 C343.94,97.72 345.19,98.73 346.90,99.45 C345.19,100.17 343.94,101.18 343.10,101.85 C342.26,101.18 341.01,100.17 339.30,99.45 Z" fill="#197a6e" stroke="#12574f" stroke-width="0.45"/>
<line x1="351.80" y1="96.05" x2="351.80" y2="104.05" stroke="#197a6e" stroke-width="0.35" opacity="0.6"/>
<path d="M348.00,99.45 C349.71,98.73 350.96,97.72 351.80,97.05 C352.64,97.72 353.89,98.73 355.60,99.45 C353.89,100.17 352.64,101.18 351.80,101.85 C350.96,101.18 349.71,100.17 348.00,99.45 Z" fill="#197a6e" stroke="#12574f" stroke-width="0.45"/>
<line x1="362.90" y1="96.05" x2="362.90" y2="104.05" stroke="#197a6e" stroke-width="0.35" opacity="0.6"/>
<path d="M359.10,99.45 C360.81,98.73 362.06,97.72 362.90,97.05 C363.74,97.72 364.99,98.73 366.70,99.45 C364.99,100.17 363.74,101.18 362.90,101.85 C362.06,101.18 360.81,100.17 359.10,99.45 Z" fill="#197a6e" stroke="#12574f" stroke-width="0.45"/>
<line x1="371.60" y1="96.05" x2="371.60" y2="104.05" stroke="#197a6e" stroke-width="0.35" opacity="0.6"/>
<path d="M367.80,99.45 C369.51,98.73 370.76,97.72 371.60,97.05 C372.44,97.72 373.69,98.73 375.40,99.45 C373.69,100.17 372.44,101.18 371.60,101.85 C370.76,101.18 369.51,100.17 367.80,99.45 Z" fill="#197a6e" stroke="#12574f" stroke-width="0.45"/>
<line x1="380.30" y1="95.05" x2="380.30" y2="105.05" stroke="#197a6e" stroke-width="0.35" opacity="0.6"/>
<path d="M376.41,99.45 C378.16,98.43 379.44,97.00 380.30,96.05 C381.16,97.00 382.44,98.43 384.19,99.45 C382.44,100.47 381.16,101.90 380.30,102.85 C379.44,101.90 378.16,100.47 376.41,99.45 Z" fill="#197a6e" stroke="#12574f" stroke-width="0.45"/>
<line x1="389.00" y1="96.05" x2="389.00" y2="104.05" stroke="#197a6e" stroke-width="0.35" opacity="0.6"/>
<path d="M385.20,99.45 C386.91,98.73 388.16,97.72 389.00,97.05 C389.84,97.72 391.09,98.73 392.80,99.45 C391.09,100.17 389.84,101.18 389.00,101.85 C388.16,101.18 386.91,100.17 385.20,99.45 Z" fill="#197a6e" stroke="#12574f" stroke-width="0.45"/>
<line x1="400.20" y1="96.05" x2="400.20" y2="104.05" stroke="#197a6e" stroke-width="0.35" opacity="0.6"/>
<path d="M396.40,99.45 C398.11,98.73 399.36,97.72 400.20,97.05 C401.04,97.72 402.29,98.73 404.00,99.45 C402.29,100.17 401.04,101.18 400.20,101.85 C399.36,101.18 398.11,100.17 396.40,99.45 Z" fill="#197a6e" stroke="#12574f" stroke-width="0.45"/>
<line x1="408.90" y1="96.05" x2="408.90" y2="104.05" stroke="#197a6e" stroke-width="0.35" opacity="0.6"/>
<path d="M405.10,99.45 C406.81,98.73 408.06,97.72 408.90,97.05 C409.74,97.72 410.99,98.73 412.70,99.45 C410.99,100.17 409.74,101.18 408.90,101.85 C408.06,101.18 406.81,100.17 405.10,99.45 Z" fill="#197a6e" stroke="#12574f" stroke-width="0.45"/>
<line x1="417.60" y1="96.05" x2="417.60" y2="104.05" stroke="#197a6e" stroke-width="0.35" opacity="0.6"/>
<path d="M413.80,99.45 C415.51,98.73 416.76,97.72 417.60,97.05 C418.44,97.72 419.69,98.73 421.40,99.45 C419.69,100.17 418.44,101.18 417.60,101.85 C416.76,101.18 415.51,100.17 413.80,99.45 Z" fill="#197a6e" stroke="#12574f" stroke-width="0.45"/>
<line x1="426.30" y1="96.05" x2="426.30" y2="104.05" stroke="#197a6e" stroke-width="0.35" opacity="0.6"/>
<path d="M422.50,99.45 C424.21,98.73 425.46,97.72 426.30,97.05 C427.14,97.72 428.39,98.73 430.10,99.45 C428.39,100.17 427.14,101.18 426.30,101.85 C425.46,101.18 424.21,100.17 422.50,99.45 Z" fill="#197a6e" stroke="#12574f" stroke-width="0.45"/>
<line x1="438.20" y1="95.85" x2="438.20" y2="104.25" stroke="#5aac58" stroke-width="0.35" opacity="0.6"/>
<path d="M434.10,99.45 C435.94,98.67 437.30,97.58 438.20,96.85 C439.10,97.58 440.46,98.67 442.30,99.45 C440.46,100.23 439.10,101.32 438.20,102.05 C437.30,101.32 435.94,100.23 434.10,99.45 Z" fill="#5aac58" stroke="#407b3f" stroke-width="0.45"/>
<line x1="446.90" y1="95.65" x2="446.90" y2="104.45" stroke="#9ec85a" stroke-width="0.35" opacity="0.6"/>
<path d="M442.80,99.45 C444.64,98.61 446.00,97.43 446.90,96.65 C447.80,97.43 449.16,98.61 451.00,99.45 C449.16,100.29 447.80,101.47 446.90,102.25 C446.00,101.47 444.64,100.29 442.80,99.45 Z" fill="#9ec85a" stroke="#719040" stroke-width="0.45"/>
<line x1="455.60" y1="95.85" x2="455.60" y2="104.25" stroke="#5aac58" stroke-width="0.35" opacity="0.6"/>
<path d="M451.50,99.45 C453.34,98.67 454.70,97.58 455.60,96.85 C456.50,97.58 457.86,98.67 459.70,99.45 C457.86,100.23 456.50,101.32 455.60,102.05 C454.70,101.32 453.34,100.23 451.50,99.45 Z" fill="#5aac58" stroke="#407b3f" stroke-width="0.45"/>
<line x1="464.30" y1="95.85" x2="464.30" y2="104.25" stroke="#5aac58" stroke-width="0.35" opacity="0.6"/>
<path d="M460.41,99.45 C462.16,98.67 463.44,97.58 464.30,96.85 C465.16,97.58 466.44,98.67 468.19,99.45 C466.44,100.23 465.16,101.32 464.30,102.05 C463.44,101.32 462.16,100.23 460.41,99.45 Z" fill="#5aac58" stroke="#407b3f" stroke-width="0.45"/>
<line x1="288.40" y1="106.60" x2="288.40" y2="115.80" stroke="#dcc23c" stroke-width="0.35" opacity="0.6"/>
<path d="M284.73,110.60 C286.38,109.70 287.59,108.44 288.40,107.60 C289.21,108.44 290.42,109.70 292.07,110.60 C290.42,111.50 289.21,112.76 288.40,113.60 C287.59,112.76 286.38,111.50 284.73,110.60 Z" fill="#dcc23c" stroke="#9e8b2b" stroke-width="0.45"/>
<line x1="297.10" y1="107.00" x2="297.10" y2="115.40" stroke="#a6c63c" stroke-width="0.35" opacity="0.6"/>
<path d="M293.43,110.60 C295.08,109.82 296.29,108.73 297.10,108.00 C297.91,108.73 299.12,109.82 300.77,110.60 C299.12,111.38 297.91,112.47 297.10,113.20 C296.29,112.47 295.08,111.38 293.43,110.60 Z" fill="#a6c63c" stroke="#778e2b" stroke-width="0.45"/>
<line x1="305.80" y1="106.40" x2="305.80" y2="116.00" stroke="#197a6e" stroke-width="0.35" opacity="0.6"/>
<path d="M302.13,110.60 C303.78,109.64 304.99,108.30 305.80,107.40 C306.61,108.30 307.82,109.64 309.47,110.60 C307.82,111.56 306.61,112.90 305.80,113.80 C304.99,112.90 303.78,111.56 302.13,110.60 Z" fill="#197a6e" stroke="#12574f" stroke-width="0.45"/>
<line x1="314.50" y1="106.60" x2="314.50" y2="115.80" stroke="#7fc05e" stroke-width="0.35" opacity="0.6"/>
<path d="M310.94,110.60 C312.54,109.70 313.72,108.44 314.50,107.60 C315.28,108.44 316.46,109.70 318.06,110.60 C316.46,111.50 315.28,112.76 314.50,113.60 C313.72,112.76 312.54,111.50 310.94,110.60 Z" fill="#7fc05e" stroke="#5b8a43" stroke-width="0.45"/>
<line x1="325.70" y1="107.20" x2="325.70" y2="115.20" stroke="#197a6e" stroke-width="0.35" opacity="0.6"/>
<path d="M321.90,110.60 C323.61,109.88 324.86,108.87 325.70,108.20 C326.54,108.87 327.79,109.88 329.50,110.60 C327.79,111.32 326.54,112.33 325.70,113.00 C324.86,112.33 323.61,111.32 321.90,110.60 Z" fill="#197a6e" stroke="#12574f" stroke-width="0.45"/>
<line x1="334.40" y1="107.20" x2="334.40" y2="115.20" stroke="#197a6e" stroke-width="0.35" opacity="0.6"/>
<path d="M330.60,110.60 C332.31,109.88 333.56,108.87 334.40,108.20 C335.24,108.87 336.49,109.88 338.20,110.60 C336.49,111.32 335.24,112.33 334.40,113.00 C333.56,112.33 332.31,111.32 330.60,110.60 Z" fill="#197a6e" stroke="#12574f" stroke-width="0.45"/>
<line x1="343.10" y1="107.20" x2="343.10" y2="115.20" stroke="#197a6e" stroke-width="0.35" opacity="0.6"/>
<path d="M339.30,110.60 C341.01,109.88 342.26,108.87 343.10,108.20 C343.94,108.87 345.19,109.88 346.90,110.60 C345.19,111.32 343.94,112.33 343.10,113.00 C342.26,112.33 341.01,111.32 339.30,110.60 Z" fill="#197a6e" stroke="#12574f" stroke-width="0.45"/>
<line x1="351.80" y1="107.20" x2="351.80" y2="115.20" stroke="#197a6e" stroke-width="0.35" opacity="0.6"/>
<path d="M348.00,110.60 C349.71,109.88 350.96,108.87 351.80,108.20 C352.64,108.87 353.89,109.88 355.60,110.60 C353.89,111.32 352.64,112.33 351.80,113.00 C350.96,112.33 349.71,111.32 348.00,110.60 Z" fill="#197a6e" stroke="#12574f" stroke-width="0.45"/>
<line x1="362.90" y1="107.20" x2="362.90" y2="115.20" stroke="#197a6e" stroke-width="0.35" opacity="0.6"/>
<path d="M359.10,110.60 C360.81,109.88 362.06,108.87 362.90,108.20 C363.74,108.87 364.99,109.88 366.70,110.60 C364.99,111.32 363.74,112.33 362.90,113.00 C362.06,112.33 360.81,111.32 359.10,110.60 Z" fill="#197a6e" stroke="#12574f" stroke-width="0.45"/>
<line x1="371.60" y1="107.20" x2="371.60" y2="115.20" stroke="#197a6e" stroke-width="0.35" opacity="0.6"/>
<path d="M367.80,110.60 C369.51,109.88 370.76,108.87 371.60,108.20 C372.44,108.87 373.69,109.88 375.40,110.60 C373.69,111.32 372.44,112.33 371.60,113.00 C370.76,112.33 369.51,111.32 367.80,110.60 Z" fill="#197a6e" stroke="#12574f" stroke-width="0.45"/>
<line x1="380.30" y1="106.40" x2="380.30" y2="116.00" stroke="#197a6e" stroke-width="0.35" opacity="0.6"/>
<path d="M376.63,110.60 C378.28,109.64 379.49,108.30 380.30,107.40 C381.11,108.30 382.32,109.64 383.97,110.60 C382.32,111.56 381.11,112.90 380.30,113.80 C379.49,112.90 378.28,111.56 376.63,110.60 Z" fill="#197a6e" stroke="#12574f" stroke-width="0.45"/>
<line x1="389.00" y1="107.20" x2="389.00" y2="115.20" stroke="#197a6e" stroke-width="0.35" opacity="0.6"/>
<path d="M385.20,110.60 C386.91,109.88 388.16,108.87 389.00,108.20 C389.84,108.87 391.09,109.88 392.80,110.60 C391.09,111.32 389.84,112.33 389.00,113.00 C388.16,112.33 386.91,111.32 385.20,110.60 Z" fill="#197a6e" stroke="#12574f" stroke-width="0.45"/>
<line x1="400.20" y1="107.20" x2="400.20" y2="115.20" stroke="#1f6383" stroke-width="0.35" opacity="0.6"/>
<path d="M396.40,110.60 C398.11,109.88 399.36,108.87 400.20,108.20 C401.04,108.87 402.29,109.88 404.00,110.60 C402.29,111.32 401.04,112.33 400.20,113.00 C399.36,112.33 398.11,111.32 396.40,110.60 Z" fill="#1f6383" stroke="#16475e" stroke-width="0.45"/>
<line x1="408.90" y1="107.20" x2="408.90" y2="115.20" stroke="#1f6383" stroke-width="0.35" opacity="0.6"/>
<path d="M405.10,110.60 C406.81,109.88 408.06,108.87 408.90,108.20 C409.74,108.87 410.99,109.88 412.70,110.60 C410.99,111.32 409.74,112.33 408.90,113.00 C408.06,112.33 406.81,111.32 405.10,110.60 Z" fill="#1f6383" stroke="#16475e" stroke-width="0.45"/>
<line x1="417.60" y1="107.20" x2="417.60" y2="115.20" stroke="#1f6383" stroke-width="0.35" opacity="0.6"/>
<path d="M413.80,110.60 C415.51,109.88 416.76,108.87 417.60,108.20 C418.44,108.87 419.69,109.88 421.40,110.60 C419.69,111.32 418.44,112.33 417.60,113.00 C416.76,112.33 415.51,111.32 413.80,110.60 Z" fill="#1f6383" stroke="#16475e" stroke-width="0.45"/>
<line x1="426.30" y1="107.20" x2="426.30" y2="115.20" stroke="#1f6383" stroke-width="0.35" opacity="0.6"/>
<path d="M422.50,110.60 C424.21,109.88 425.46,108.87 426.30,108.20 C427.14,108.87 428.39,109.88 430.10,110.60 C428.39,111.32 427.14,112.33 426.30,113.00 C425.46,112.33 424.21,111.32 422.50,110.60 Z" fill="#1f6383" stroke="#16475e" stroke-width="0.45"/>
<line x1="438.20" y1="108.20" x2="438.20" y2="114.20" stroke="#197a6e" stroke-width="0.35" opacity="0.6"/>
<path d="M434.96,110.60 C436.42,110.18 437.49,109.59 438.20,109.20 C438.91,109.59 439.98,110.18 441.44,110.60 C439.98,111.02 438.91,111.61 438.20,112.00 C437.49,111.61 436.42,111.02 434.96,110.60 Z" fill="#197a6e" stroke="#12574f" stroke-width="0.45"/>
<line x1="446.90" y1="108.20" x2="446.90" y2="114.20" stroke="#197a6e" stroke-width="0.35" opacity="0.6"/>
<path d="M443.66,110.60 C445.12,110.18 446.19,109.59 446.90,109.20 C447.61,109.59 448.68,110.18 450.14,110.60 C448.68,111.02 447.61,111.61 446.90,112.00 C446.19,111.61 445.12,111.02 443.66,110.60 Z" fill="#197a6e" stroke="#12574f" stroke-width="0.45"/>
<line x1="455.60" y1="108.20" x2="455.60" y2="114.20" stroke="#197a6e" stroke-width="0.35" opacity="0.6"/>
<path d="M452.36,110.60 C453.82,110.18 454.89,109.59 455.60,109.20 C456.31,109.59 457.38,110.18 458.84,110.60 C457.38,111.02 456.31,111.61 455.60,112.00 C454.89,111.61 453.82,111.02 452.36,110.60 Z" fill="#197a6e" stroke="#12574f" stroke-width="0.45"/>
<line x1="464.30" y1="108.00" x2="464.30" y2="114.40" stroke="#197a6e" stroke-width="0.35" opacity="0.6"/>
<path d="M461.06,110.60 C462.52,110.12 463.59,109.45 464.30,109.00 C465.01,109.45 466.08,110.12 467.54,110.60 C466.08,111.08 465.01,111.75 464.30,112.20 C463.59,111.75 462.52,111.08 461.06,110.60 Z" fill="#197a6e" stroke="#12574f" stroke-width="0.45"/>
<line x1="288.40" y1="118.35" x2="288.40" y2="126.35" stroke="#5aac58" stroke-width="0.35" opacity="0.6"/>
<path d="M284.60,121.75 C286.31,121.03 287.56,120.02 288.40,119.35 C289.24,120.02 290.49,121.03 292.20,121.75 C290.49,122.47 289.24,123.48 288.40,124.15 C287.56,123.48 286.31,122.47 284.60,121.75 Z" fill="#5aac58" stroke="#407b3f" stroke-width="0.45"/>
<line x1="297.10" y1="118.35" x2="297.10" y2="126.35" stroke="#5aac58" stroke-width="0.35" opacity="0.6"/>
<path d="M293.54,121.75 C295.14,121.03 296.32,120.02 297.10,119.35 C297.88,120.02 299.06,121.03 300.66,121.75 C299.06,122.47 297.88,123.48 297.10,124.15 C296.32,123.48 295.14,122.47 293.54,121.75 Z" fill="#5aac58" stroke="#407b3f" stroke-width="0.45"/>
<line x1="305.80" y1="118.35" x2="305.80" y2="126.35" stroke="#197a6e" stroke-width="0.35" opacity="0.6"/>
<path d="M302.00,121.75 C303.71,121.03 304.96,120.02 305.80,119.35 C306.64,120.02 307.89,121.03 309.60,121.75 C307.89,122.47 306.64,123.48 305.80,124.15 C304.96,123.48 303.71,122.47 302.00,121.75 Z" fill="#197a6e" stroke="#12574f" stroke-width="0.45"/>
<line x1="314.50" y1="118.35" x2="314.50" y2="126.35" stroke="#197a6e" stroke-width="0.35" opacity="0.6"/>
<path d="M310.70,121.75 C312.41,121.03 313.66,120.02 314.50,119.35 C315.34,120.02 316.59,121.03 318.30,121.75 C316.59,122.47 315.34,123.48 314.50,124.15 C313.66,123.48 312.41,122.47 310.70,121.75 Z" fill="#197a6e" stroke="#12574f" stroke-width="0.45"/>
<line x1="325.70" y1="118.35" x2="325.70" y2="126.35" stroke="#197a6e" stroke-width="0.35" opacity="0.6"/>
<path d="M321.90,121.75 C323.61,121.03 324.86,120.02 325.70,119.35 C326.54,120.02 327.79,121.03 329.50,121.75 C327.79,122.47 326.54,123.48 325.70,124.15 C324.86,123.48 323.61,122.47 321.90,121.75 Z" fill="#197a6e" stroke="#12574f" stroke-width="0.45"/>
<line x1="334.40" y1="118.35" x2="334.40" y2="126.35" stroke="#197a6e" stroke-width="0.35" opacity="0.6"/>
<path d="M330.60,121.75 C332.31,121.03 333.56,120.02 334.40,119.35 C335.24,120.02 336.49,121.03 338.20,121.75 C336.49,122.47 335.24,123.48 334.40,124.15 C333.56,123.48 332.31,122.47 330.60,121.75 Z" fill="#197a6e" stroke="#12574f" stroke-width="0.45"/>
<line x1="343.10" y1="118.35" x2="343.10" y2="126.35" stroke="#197a6e" stroke-width="0.35" opacity="0.6"/>
<path d="M339.30,121.75 C341.01,121.03 342.26,120.02 343.10,119.35 C343.94,120.02 345.19,121.03 346.90,121.75 C345.19,122.47 343.94,123.48 343.10,124.15 C342.26,123.48 341.01,122.47 339.30,121.75 Z" fill="#197a6e" stroke="#12574f" stroke-width="0.45"/>
<line x1="351.80" y1="118.35" x2="351.80" y2="126.35" stroke="#197a6e" stroke-width="0.35" opacity="0.6"/>
<path d="M348.00,121.75 C349.71,121.03 350.96,120.02 351.80,119.35 C352.64,120.02 353.89,121.03 355.60,121.75 C353.89,122.47 352.64,123.48 351.80,124.15 C350.96,123.48 349.71,122.47 348.00,121.75 Z" fill="#197a6e" stroke="#12574f" stroke-width="0.45"/>
<line x1="362.90" y1="118.35" x2="362.90" y2="126.35" stroke="#197a6e" stroke-width="0.35" opacity="0.6"/>
<path d="M359.10,121.75 C360.81,121.03 362.06,120.02 362.90,119.35 C363.74,120.02 364.99,121.03 366.70,121.75 C364.99,122.47 363.74,123.48 362.90,124.15 C362.06,123.48 360.81,122.47 359.10,121.75 Z" fill="#197a6e" stroke="#12574f" stroke-width="0.45"/>
<line x1="371.60" y1="118.35" x2="371.60" y2="126.35" stroke="#197a6e" stroke-width="0.35" opacity="0.6"/>
<path d="M367.80,121.75 C369.51,121.03 370.76,120.02 371.60,119.35 C372.44,120.02 373.69,121.03 375.40,121.75 C373.69,122.47 372.44,123.48 371.60,124.15 C370.76,123.48 369.51,122.47 367.80,121.75 Z" fill="#197a6e" stroke="#12574f" stroke-width="0.45"/>
<line x1="380.30" y1="118.35" x2="380.30" y2="126.35" stroke="#197a6e" stroke-width="0.35" opacity="0.6"/>
<path d="M376.50,121.75 C378.21,121.03 379.46,120.02 380.30,119.35 C381.14,120.02 382.39,121.03 384.10,121.75 C382.39,122.47 381.14,123.48 380.30,124.15 C379.46,123.48 378.21,122.47 376.50,121.75 Z" fill="#197a6e" stroke="#12574f" stroke-width="0.45"/>
<line x1="389.00" y1="118.35" x2="389.00" y2="126.35" stroke="#197a6e" stroke-width="0.35" opacity="0.6"/>
<path d="M385.20,121.75 C386.91,121.03 388.16,120.02 389.00,119.35 C389.84,120.02 391.09,121.03 392.80,121.75 C391.09,122.47 389.84,123.48 389.00,124.15 C388.16,123.48 386.91,122.47 385.20,121.75 Z" fill="#197a6e" stroke="#12574f" stroke-width="0.45"/>
<line x1="400.20" y1="118.35" x2="400.20" y2="126.35" stroke="#197a6e" stroke-width="0.35" opacity="0.6"/>
<path d="M396.40,121.75 C398.11,121.03 399.36,120.02 400.20,119.35 C401.04,120.02 402.29,121.03 404.00,121.75 C402.29,122.47 401.04,123.48 400.20,124.15 C399.36,123.48 398.11,122.47 396.40,121.75 Z" fill="#197a6e" stroke="#12574f" stroke-width="0.45"/>
<line x1="408.90" y1="118.35" x2="408.90" y2="126.35" stroke="#197a6e" stroke-width="0.35" opacity="0.6"/>
<path d="M405.10,121.75 C406.81,121.03 408.06,120.02 408.90,119.35 C409.74,120.02 410.99,121.03 412.70,121.75 C410.99,122.47 409.74,123.48 408.90,124.15 C408.06,123.48 406.81,122.47 405.10,121.75 Z" fill="#197a6e" stroke="#12574f" stroke-width="0.45"/>
<line x1="417.60" y1="118.35" x2="417.60" y2="126.35" stroke="#197a6e" stroke-width="0.35" opacity="0.6"/>
<path d="M413.80,121.75 C415.51,121.03 416.76,120.02 417.60,119.35 C418.44,120.02 419.69,121.03 421.40,121.75 C419.69,122.47 418.44,123.48 417.60,124.15 C416.76,123.48 415.51,122.47 413.80,121.75 Z" fill="#197a6e" stroke="#12574f" stroke-width="0.45"/>
<line x1="426.30" y1="118.35" x2="426.30" y2="126.35" stroke="#197a6e" stroke-width="0.35" opacity="0.6"/>
<path d="M422.50,121.75 C424.21,121.03 425.46,120.02 426.30,119.35 C427.14,120.02 428.39,121.03 430.10,121.75 C428.39,122.47 427.14,123.48 426.30,124.15 C425.46,123.48 424.21,122.47 422.50,121.75 Z" fill="#197a6e" stroke="#12574f" stroke-width="0.45"/>
<line x1="438.20" y1="119.35" x2="438.20" y2="125.35" stroke="#197a6e" stroke-width="0.35" opacity="0.6"/>
<path d="M434.96,121.75 C436.42,121.33 437.49,120.74 438.20,120.35 C438.91,120.74 439.98,121.33 441.44,121.75 C439.98,122.17 438.91,122.76 438.20,123.15 C437.49,122.76 436.42,122.17 434.96,121.75 Z" fill="#197a6e" stroke="#12574f" stroke-width="0.45"/>
<line x1="446.90" y1="119.35" x2="446.90" y2="125.35" stroke="#197a6e" stroke-width="0.35" opacity="0.6"/>
<path d="M443.66,121.75 C445.12,121.33 446.19,120.74 446.90,120.35 C447.61,120.74 448.68,121.33 450.14,121.75 C448.68,122.17 447.61,122.76 446.90,123.15 C446.19,122.76 445.12,122.17 443.66,121.75 Z" fill="#197a6e" stroke="#12574f" stroke-width="0.45"/>
<line x1="455.60" y1="119.35" x2="455.60" y2="125.35" stroke="#197a6e" stroke-width="0.35" opacity="0.6"/>
<path d="M452.36,121.75 C453.82,121.33 454.89,120.74 455.60,120.35 C456.31,120.74 457.38,121.33 458.84,121.75 C457.38,122.17 456.31,122.76 455.60,123.15 C454.89,122.76 453.82,122.17 452.36,121.75 Z" fill="#197a6e" stroke="#12574f" stroke-width="0.45"/>
<line x1="464.30" y1="119.35" x2="464.30" y2="125.35" stroke="#197a6e" stroke-width="0.35" opacity="0.6"/>
<path d="M461.06,121.75 C462.52,121.33 463.59,120.74 464.30,120.35 C465.01,120.74 466.08,121.33 467.54,121.75 C466.08,122.17 465.01,122.76 464.30,123.15 C463.59,122.76 462.52,122.17 461.06,121.75 Z" fill="#197a6e" stroke="#12574f" stroke-width="0.45"/>
<line x1="288.40" y1="129.50" x2="288.40" y2="137.50" stroke="#5aac58" stroke-width="0.35" opacity="0.6"/>
<path d="M284.84,132.90 C286.44,132.18 287.62,131.17 288.40,130.50 C289.18,131.17 290.36,132.18 291.96,132.90 C290.36,133.62 289.18,134.63 288.40,135.30 C287.62,134.63 286.44,133.62 284.84,132.90 Z" fill="#5aac58" stroke="#407b3f" stroke-width="0.45"/>
<line x1="297.10" y1="129.50" x2="297.10" y2="137.50" stroke="#197a6e" stroke-width="0.35" opacity="0.6"/>
<path d="M293.30,132.90 C295.01,132.18 296.26,131.17 297.10,130.50 C297.94,131.17 299.19,132.18 300.90,132.90 C299.19,133.62 297.94,134.63 297.10,135.30 C296.26,134.63 295.01,133.62 293.30,132.90 Z" fill="#197a6e" stroke="#12574f" stroke-width="0.45"/>
<line x1="305.80" y1="129.50" x2="305.80" y2="137.50" stroke="#197a6e" stroke-width="0.35" opacity="0.6"/>
<path d="M302.00,132.90 C303.71,132.18 304.96,131.17 305.80,130.50 C306.64,131.17 307.89,132.18 309.60,132.90 C307.89,133.62 306.64,134.63 305.80,135.30 C304.96,134.63 303.71,133.62 302.00,132.90 Z" fill="#197a6e" stroke="#12574f" stroke-width="0.45"/>
<line x1="314.50" y1="129.50" x2="314.50" y2="137.50" stroke="#197a6e" stroke-width="0.35" opacity="0.6"/>
<path d="M310.70,132.90 C312.41,132.18 313.66,131.17 314.50,130.50 C315.34,131.17 316.59,132.18 318.30,132.90 C316.59,133.62 315.34,134.63 314.50,135.30 C313.66,134.63 312.41,133.62 310.70,132.90 Z" fill="#197a6e" stroke="#12574f" stroke-width="0.45"/>
<line x1="325.70" y1="129.50" x2="325.70" y2="137.50" stroke="#197a6e" stroke-width="0.35" opacity="0.6"/>
<path d="M321.90,132.90 C323.61,132.18 324.86,131.17 325.70,130.50 C326.54,131.17 327.79,132.18 329.50,132.90 C327.79,133.62 326.54,134.63 325.70,135.30 C324.86,134.63 323.61,133.62 321.90,132.90 Z" fill="#197a6e" stroke="#12574f" stroke-width="0.45"/>
<line x1="334.40" y1="129.50" x2="334.40" y2="137.50" stroke="#197a6e" stroke-width="0.35" opacity="0.6"/>
<path d="M330.60,132.90 C332.31,132.18 333.56,131.17 334.40,130.50 C335.24,131.17 336.49,132.18 338.20,132.90 C336.49,133.62 335.24,134.63 334.40,135.30 C333.56,134.63 332.31,133.62 330.60,132.90 Z" fill="#197a6e" stroke="#12574f" stroke-width="0.45"/>
<line x1="343.10" y1="129.50" x2="343.10" y2="137.50" stroke="#197a6e" stroke-width="0.35" opacity="0.6"/>
<path d="M339.30,132.90 C341.01,132.18 342.26,131.17 343.10,130.50 C343.94,131.17 345.19,132.18 346.90,132.90 C345.19,133.62 343.94,134.63 343.10,135.30 C342.26,134.63 341.01,133.62 339.30,132.90 Z" fill="#197a6e" stroke="#12574f" stroke-width="0.45"/>
<line x1="351.80" y1="129.50" x2="351.80" y2="137.50" stroke="#197a6e" stroke-width="0.35" opacity="0.6"/>
<path d="M348.00,132.90 C349.71,132.18 350.96,131.17 351.80,130.50 C352.64,131.17 353.89,132.18 355.60,132.90 C353.89,133.62 352.64,134.63 351.80,135.30 C350.96,134.63 349.71,133.62 348.00,132.90 Z" fill="#197a6e" stroke="#12574f" stroke-width="0.45"/>
<line x1="362.90" y1="129.50" x2="362.90" y2="137.50" stroke="#197a6e" stroke-width="0.35" opacity="0.6"/>
<path d="M359.10,132.90 C360.81,132.18 362.06,131.17 362.90,130.50 C363.74,131.17 364.99,132.18 366.70,132.90 C364.99,133.62 363.74,134.63 362.90,135.30 C362.06,134.63 360.81,133.62 359.10,132.90 Z" fill="#197a6e" stroke="#12574f" stroke-width="0.45"/>
<line x1="371.60" y1="129.50" x2="371.60" y2="137.50" stroke="#197a6e" stroke-width="0.35" opacity="0.6"/>
<path d="M367.80,132.90 C369.51,132.18 370.76,131.17 371.60,130.50 C372.44,131.17 373.69,132.18 375.40,132.90 C373.69,133.62 372.44,134.63 371.60,135.30 C370.76,134.63 369.51,133.62 367.80,132.90 Z" fill="#197a6e" stroke="#12574f" stroke-width="0.45"/>
<line x1="380.30" y1="129.50" x2="380.30" y2="137.50" stroke="#197a6e" stroke-width="0.35" opacity="0.6"/>
<path d="M376.50,132.90 C378.21,132.18 379.46,131.17 380.30,130.50 C381.14,131.17 382.39,132.18 384.10,132.90 C382.39,133.62 381.14,134.63 380.30,135.30 C379.46,134.63 378.21,133.62 376.50,132.90 Z" fill="#197a6e" stroke="#12574f" stroke-width="0.45"/>
<line x1="389.00" y1="129.50" x2="389.00" y2="137.50" stroke="#197a6e" stroke-width="0.35" opacity="0.6"/>
<path d="M385.20,132.90 C386.91,132.18 388.16,131.17 389.00,130.50 C389.84,131.17 391.09,132.18 392.80,132.90 C391.09,133.62 389.84,134.63 389.00,135.30 C388.16,134.63 386.91,133.62 385.20,132.90 Z" fill="#197a6e" stroke="#12574f" stroke-width="0.45"/>
<line x1="400.20" y1="129.50" x2="400.20" y2="137.50" stroke="#197a6e" stroke-width="0.35" opacity="0.6"/>
<path d="M396.40,132.90 C398.11,132.18 399.36,131.17 400.20,130.50 C401.04,131.17 402.29,132.18 404.00,132.90 C402.29,133.62 401.04,134.63 400.20,135.30 C399.36,134.63 398.11,133.62 396.40,132.90 Z" fill="#197a6e" stroke="#12574f" stroke-width="0.45"/>
<line x1="408.90" y1="129.50" x2="408.90" y2="137.50" stroke="#197a6e" stroke-width="0.35" opacity="0.6"/>
<path d="M405.10,132.90 C406.81,132.18 408.06,131.17 408.90,130.50 C409.74,131.17 410.99,132.18 412.70,132.90 C410.99,133.62 409.74,134.63 408.90,135.30 C408.06,134.63 406.81,133.62 405.10,132.90 Z" fill="#197a6e" stroke="#12574f" stroke-width="0.45"/>
<line x1="417.60" y1="129.50" x2="417.60" y2="137.50" stroke="#197a6e" stroke-width="0.35" opacity="0.6"/>
<path d="M413.80,132.90 C415.51,132.18 416.76,131.17 417.60,130.50 C418.44,131.17 419.69,132.18 421.40,132.90 C419.69,133.62 418.44,134.63 417.60,135.30 C416.76,134.63 415.51,133.62 413.80,132.90 Z" fill="#197a6e" stroke="#12574f" stroke-width="0.45"/>
<line x1="426.30" y1="129.50" x2="426.30" y2="137.50" stroke="#197a6e" stroke-width="0.35" opacity="0.6"/>
<path d="M422.50,132.90 C424.21,132.18 425.46,131.17 426.30,130.50 C427.14,131.17 428.39,132.18 430.10,132.90 C428.39,133.62 427.14,134.63 426.30,135.30 C425.46,134.63 424.21,133.62 422.50,132.90 Z" fill="#197a6e" stroke="#12574f" stroke-width="0.45"/>
<line x1="438.20" y1="130.50" x2="438.20" y2="136.50" stroke="#197a6e" stroke-width="0.35" opacity="0.6"/>
<path d="M434.96,132.90 C436.42,132.48 437.49,131.89 438.20,131.50 C438.91,131.89 439.98,132.48 441.44,132.90 C439.98,133.32 438.91,133.91 438.20,134.30 C437.49,133.91 436.42,133.32 434.96,132.90 Z" fill="#197a6e" stroke="#12574f" stroke-width="0.45"/>
<line x1="446.90" y1="130.50" x2="446.90" y2="136.50" stroke="#197a6e" stroke-width="0.35" opacity="0.6"/>
<path d="M443.66,132.90 C445.12,132.48 446.19,131.89 446.90,131.50 C447.61,131.89 448.68,132.48 450.14,132.90 C448.68,133.32 447.61,133.91 446.90,134.30 C446.19,133.91 445.12,133.32 443.66,132.90 Z" fill="#197a6e" stroke="#12574f" stroke-width="0.45"/>
<line x1="455.60" y1="130.50" x2="455.60" y2="136.50" stroke="#197a6e" stroke-width="0.35" opacity="0.6"/>
<path d="M452.36,132.90 C453.82,132.48 454.89,131.89 455.60,131.50 C456.31,131.89 457.38,132.48 458.84,132.90 C457.38,133.32 456.31,133.91 455.60,134.30 C454.89,133.91 453.82,133.32 452.36,132.90 Z" fill="#197a6e" stroke="#12574f" stroke-width="0.45"/>
<line x1="464.30" y1="130.50" x2="464.30" y2="136.50" stroke="#197a6e" stroke-width="0.35" opacity="0.6"/>
<path d="M461.06,132.90 C462.52,132.48 463.59,131.89 464.30,131.50 C465.01,131.89 466.08,132.48 467.54,132.90 C466.08,133.32 465.01,133.91 464.30,134.30 C463.59,133.91 462.52,133.32 461.06,132.90 Z" fill="#197a6e" stroke="#12574f" stroke-width="0.45"/>
<line x1="288.40" y1="140.45" x2="288.40" y2="149.45" stroke="#1f6383" stroke-width="0.35" opacity="0.6"/>
<path d="M284.73,144.05 C286.38,143.27 287.59,142.18 288.40,141.45 C289.21,142.18 290.42,143.27 292.07,144.05 C290.42,145.01 289.21,146.35 288.40,147.25 C287.59,146.35 286.38,145.01 284.73,144.05 Z" fill="#1f6383" stroke="#16475e" stroke-width="0.45"/>
<line x1="297.10" y1="139.85" x2="297.10" y2="149.45" stroke="#1f6383" stroke-width="0.35" opacity="0.6"/>
<path d="M293.21,144.05 C294.96,143.09 296.24,141.75 297.10,140.85 C297.96,141.75 299.24,143.09 300.99,144.05 C299.24,145.01 297.96,146.35 297.10,147.25 C296.24,146.35 294.96,145.01 293.21,144.05 Z" fill="#1f6383" stroke="#16475e" stroke-width="0.45"/>
<line x1="305.80" y1="141.85" x2="305.80" y2="147.75" stroke="#7fc05e" stroke-width="0.35" opacity="0.6"/>
<path d="M302.56,144.05 C304.02,143.69 305.09,143.19 305.80,142.85 C306.51,143.19 307.58,143.69 309.04,144.05 C307.58,144.50 306.51,145.13 305.80,145.55 C305.09,145.13 304.02,144.50 302.56,144.05 Z" fill="#7fc05e" stroke="#5b8a43" stroke-width="0.45"/>
<line x1="314.50" y1="140.25" x2="314.50" y2="149.05" stroke="#1f6383" stroke-width="0.35" opacity="0.6"/>
<path d="M310.83,144.05 C312.48,143.21 313.69,142.03 314.50,141.25 C315.31,142.03 316.52,143.21 318.17,144.05 C316.52,144.89 315.31,146.07 314.50,146.85 C313.69,146.07 312.48,144.89 310.83,144.05 Z" fill="#1f6383" stroke="#16475e" stroke-width="0.45"/>
<line x1="325.70" y1="140.05" x2="325.70" y2="149.25" stroke="#197a6e" stroke-width="0.35" opacity="0.6"/>
<path d="M321.92,144.05 C323.62,143.15 324.87,141.89 325.70,141.05 C326.53,141.89 327.78,143.15 329.48,144.05 C327.78,144.95 326.53,146.21 325.70,147.05 C324.87,146.21 323.62,144.95 321.92,144.05 Z" fill="#197a6e" stroke="#12574f" stroke-width="0.45"/>
<line x1="334.40" y1="140.05" x2="334.40" y2="149.25" stroke="#197a6e" stroke-width="0.35" opacity="0.6"/>
<path d="M330.62,144.05 C332.32,143.15 333.57,141.89 334.40,141.05 C335.23,141.89 336.48,143.15 338.18,144.05 C336.48,144.95 335.23,146.21 334.40,147.05 C333.57,146.21 332.32,144.95 330.62,144.05 Z" fill="#197a6e" stroke="#12574f" stroke-width="0.45"/>
<line x1="343.10" y1="140.05" x2="343.10" y2="149.25" stroke="#197a6e" stroke-width="0.35" opacity="0.6"/>
<path d="M339.32,144.05 C341.02,143.15 342.27,141.89 343.10,141.05 C343.93,141.89 345.18,143.15 346.88,144.05 C345.18,144.95 343.93,146.21 343.10,147.05 C342.27,146.21 341.02,144.95 339.32,144.05 Z" fill="#197a6e" stroke="#12574f" stroke-width="0.45"/>
<line x1="351.80" y1="140.05" x2="351.80" y2="149.25" stroke="#197a6e" stroke-width="0.35" opacity="0.6"/>
<path d="M348.02,144.05 C349.72,143.15 350.97,141.89 351.80,141.05 C352.63,141.89 353.88,143.15 355.58,144.05 C353.88,144.95 352.63,146.21 351.80,147.05 C350.97,146.21 349.72,144.95 348.02,144.05 Z" fill="#197a6e" stroke="#12574f" stroke-width="0.45"/>
<line x1="362.90" y1="140.05" x2="362.90" y2="149.25" stroke="#197a6e" stroke-width="0.35" opacity="0.6"/>
<path d="M359.23,144.05 C360.88,143.15 362.09,141.89 362.90,141.05 C363.71,141.89 364.92,143.15 366.57,144.05 C364.92,144.95 363.71,146.21 362.90,147.05 C362.09,146.21 360.88,144.95 359.23,144.05 Z" fill="#197a6e" stroke="#12574f" stroke-width="0.45"/>
<line x1="371.60" y1="140.05" x2="371.60" y2="149.25" stroke="#197a6e" stroke-width="0.35" opacity="0.6"/>
<path d="M367.93,144.05 C369.58,143.15 370.79,141.89 371.60,141.05 C372.41,141.89 373.62,143.15 375.27,144.05 C373.62,144.95 372.41,146.21 371.60,147.05 C370.79,146.21 369.58,144.95 367.93,144.05 Z" fill="#197a6e" stroke="#12574f" stroke-width="0.45"/>
<line x1="380.30" y1="139.85" x2="380.30" y2="149.45" stroke="#197a6e" stroke-width="0.35" opacity="0.6"/>
<path d="M376.63,144.05 C378.28,143.09 379.49,141.75 380.30,140.85 C381.11,141.75 382.32,143.09 383.97,144.05 C382.32,145.01 381.11,146.35 380.30,147.25 C379.49,146.35 378.28,145.01 376.63,144.05 Z" fill="#197a6e" stroke="#12574f" stroke-width="0.45"/>
<line x1="389.00" y1="140.05" x2="389.00" y2="149.25" stroke="#197a6e" stroke-width="0.35" opacity="0.6"/>
<path d="M385.33,144.05 C386.98,143.15 388.19,141.89 389.00,141.05 C389.81,141.89 391.02,143.15 392.67,144.05 C391.02,144.95 389.81,146.21 389.00,147.05 C388.19,146.21 386.98,144.95 385.33,144.05 Z" fill="#197a6e" stroke="#12574f" stroke-width="0.45"/>
<line x1="400.20" y1="139.85" x2="400.20" y2="149.45" stroke="#197a6e" stroke-width="0.35" opacity="0.6"/>
<path d="M396.31,144.05 C398.06,143.09 399.34,141.75 400.20,140.85 C401.06,141.75 402.34,143.09 404.09,144.05 C402.34,145.01 401.06,146.35 400.20,147.25 C399.34,146.35 398.06,145.01 396.31,144.05 Z" fill="#197a6e" stroke="#12574f" stroke-width="0.45"/>
<line x1="408.90" y1="141.45" x2="408.90" y2="147.85" stroke="#197a6e" stroke-width="0.35" opacity="0.6"/>
<path d="M405.44,144.05 C407.00,143.57 408.14,142.90 408.90,142.45 C409.66,142.90 410.80,143.57 412.36,144.05 C410.80,144.53 409.66,145.20 408.90,145.65 C408.14,145.20 407.00,144.53 405.44,144.05 Z" fill="#197a6e" stroke="#12574f" stroke-width="0.45"/>
<line x1="417.60" y1="140.05" x2="417.60" y2="149.25" stroke="#197a6e" stroke-width="0.35" opacity="0.6"/>
<path d="M413.93,144.05 C415.58,143.15 416.79,141.89 417.60,141.05 C418.41,141.89 419.62,143.15 421.27,144.05 C419.62,144.95 418.41,146.21 417.60,147.05 C416.79,146.21 415.58,144.95 413.93,144.05 Z" fill="#197a6e" stroke="#12574f" stroke-width="0.45"/>
<line x1="426.30" y1="139.85" x2="426.30" y2="149.45" stroke="#197a6e" stroke-width="0.35" opacity="0.6"/>
<path d="M422.41,144.05 C424.16,143.09 425.44,141.75 426.30,140.85 C427.16,141.75 428.44,143.09 430.19,144.05 C428.44,145.01 427.16,146.35 426.30,147.25 C425.44,146.35 424.16,145.01 422.41,144.05 Z" fill="#197a6e" stroke="#12574f" stroke-width="0.45"/>
<line x1="438.20" y1="141.65" x2="438.20" y2="147.65" stroke="#1f6383" stroke-width="0.35" opacity="0.6"/>
<path d="M434.96,144.05 C436.42,143.63 437.49,143.04 438.20,142.65 C438.91,143.04 439.98,143.63 441.44,144.05 C439.98,144.47 438.91,145.06 438.20,145.45 C437.49,145.06 436.42,144.47 434.96,144.05 Z" fill="#1f6383" stroke="#16475e" stroke-width="0.45"/>
<line x1="446.90" y1="141.65" x2="446.90" y2="147.65" stroke="#1f6383" stroke-width="0.35" opacity="0.6"/>
<path d="M443.66,144.05 C445.12,143.63 446.19,143.04 446.90,142.65 C447.61,143.04 448.68,143.63 450.14,144.05 C448.68,144.47 447.61,145.06 446.90,145.45 C446.19,145.06 445.12,144.47 443.66,144.05 Z" fill="#1f6383" stroke="#16475e" stroke-width="0.45"/>
<line x1="455.60" y1="141.65" x2="455.60" y2="147.65" stroke="#1f6383" stroke-width="0.35" opacity="0.6"/>
<path d="M452.36,144.05 C453.82,143.63 454.89,143.04 455.60,142.65 C456.31,143.04 457.38,143.63 458.84,144.05 C457.38,144.47 456.31,145.06 455.60,145.45 C454.89,145.06 453.82,144.47 452.36,144.05 Z" fill="#1f6383" stroke="#16475e" stroke-width="0.45"/>
<line x1="464.30" y1="141.65" x2="464.30" y2="147.65" stroke="#1f6383" stroke-width="0.35" opacity="0.6"/>
<path d="M461.06,144.05 C462.52,143.63 463.59,143.04 464.30,142.65 C465.01,143.04 466.08,143.63 467.54,144.05 C466.08,144.47 465.01,145.06 464.30,145.45 C463.59,145.06 462.52,144.47 461.06,144.05 Z" fill="#1f6383" stroke="#16475e" stroke-width="0.45"/>
<line x1="288.40" y1="150.60" x2="288.40" y2="161.00" stroke="#5aac58" stroke-width="0.35" opacity="0.6"/>
<path d="M284.51,155.20 C286.26,154.12 287.54,152.61 288.40,151.60 C289.26,152.61 290.54,154.12 292.29,155.20 C290.54,156.28 289.26,157.79 288.40,158.80 C287.54,157.79 286.26,156.28 284.51,155.20 Z" fill="#5aac58" stroke="#407b3f" stroke-width="0.45"/>
<line x1="297.10" y1="151.60" x2="297.10" y2="160.00" stroke="#9ec85a" stroke-width="0.35" opacity="0.6"/>
<path d="M293.43,155.20 C295.08,154.42 296.29,153.33 297.10,152.60 C297.91,153.33 299.12,154.42 300.77,155.20 C299.12,155.98 297.91,157.07 297.10,157.80 C296.29,157.07 295.08,155.98 293.43,155.20 Z" fill="#9ec85a" stroke="#719040" stroke-width="0.45"/>
<line x1="305.80" y1="151.80" x2="305.80" y2="159.80" stroke="#197a6e" stroke-width="0.35" opacity="0.6"/>
<path d="M302.34,155.20 C303.90,154.48 305.04,153.47 305.80,152.80 C306.56,153.47 307.70,154.48 309.26,155.20 C307.70,155.92 306.56,156.93 305.80,157.60 C305.04,156.93 303.90,155.92 302.34,155.20 Z" fill="#197a6e" stroke="#12574f" stroke-width="0.45"/>
<line x1="314.50" y1="150.80" x2="314.50" y2="160.80" stroke="#9ec85a" stroke-width="0.35" opacity="0.6"/>
<path d="M310.61,155.20 C312.36,154.18 313.64,152.75 314.50,151.80 C315.36,152.75 316.64,154.18 318.39,155.20 C316.64,156.22 315.36,157.65 314.50,158.60 C313.64,157.65 312.36,156.22 310.61,155.20 Z" fill="#9ec85a" stroke="#719040" stroke-width="0.45"/>
<line x1="325.70" y1="151.80" x2="325.70" y2="159.80" stroke="#197a6e" stroke-width="0.35" opacity="0.6"/>
<path d="M321.90,155.20 C323.61,154.48 324.86,153.47 325.70,152.80 C326.54,153.47 327.79,154.48 329.50,155.20 C327.79,155.92 326.54,156.93 325.70,157.60 C324.86,156.93 323.61,155.92 321.90,155.20 Z" fill="#197a6e" stroke="#12574f" stroke-width="0.45"/>
<line x1="334.40" y1="151.80" x2="334.40" y2="159.80" stroke="#197a6e" stroke-width="0.35" opacity="0.6"/>
<path d="M330.60,155.20 C332.31,154.48 333.56,153.47 334.40,152.80 C335.24,153.47 336.49,154.48 338.20,155.20 C336.49,155.92 335.24,156.93 334.40,157.60 C333.56,156.93 332.31,155.92 330.60,155.20 Z" fill="#197a6e" stroke="#12574f" stroke-width="0.45"/>
<line x1="343.10" y1="151.80" x2="343.10" y2="159.80" stroke="#197a6e" stroke-width="0.35" opacity="0.6"/>
<path d="M339.30,155.20 C341.01,154.48 342.26,153.47 343.10,152.80 C343.94,153.47 345.19,154.48 346.90,155.20 C345.19,155.92 343.94,156.93 343.10,157.60 C342.26,156.93 341.01,155.92 339.30,155.20 Z" fill="#197a6e" stroke="#12574f" stroke-width="0.45"/>
<line x1="351.80" y1="151.80" x2="351.80" y2="159.80" stroke="#197a6e" stroke-width="0.35" opacity="0.6"/>
<path d="M348.00,155.20 C349.71,154.48 350.96,153.47 351.80,152.80 C352.64,153.47 353.89,154.48 355.60,155.20 C353.89,155.92 352.64,156.93 351.80,157.60 C350.96,156.93 349.71,155.92 348.00,155.20 Z" fill="#197a6e" stroke="#12574f" stroke-width="0.45"/>
<line x1="362.90" y1="151.80" x2="362.90" y2="159.80" stroke="#197a6e" stroke-width="0.35" opacity="0.6"/>
<path d="M359.10,155.20 C360.81,154.48 362.06,153.47 362.90,152.80 C363.74,153.47 364.99,154.48 366.70,155.20 C364.99,155.92 363.74,156.93 362.90,157.60 C362.06,156.93 360.81,155.92 359.10,155.20 Z" fill="#197a6e" stroke="#12574f" stroke-width="0.45"/>
<line x1="371.60" y1="151.80" x2="371.60" y2="159.80" stroke="#197a6e" stroke-width="0.35" opacity="0.6"/>
<path d="M367.80,155.20 C369.51,154.48 370.76,153.47 371.60,152.80 C372.44,153.47 373.69,154.48 375.40,155.20 C373.69,155.92 372.44,156.93 371.60,157.60 C370.76,156.93 369.51,155.92 367.80,155.20 Z" fill="#197a6e" stroke="#12574f" stroke-width="0.45"/>
<line x1="380.30" y1="151.80" x2="380.30" y2="159.80" stroke="#197a6e" stroke-width="0.35" opacity="0.6"/>
<path d="M376.50,155.20 C378.21,154.48 379.46,153.47 380.30,152.80 C381.14,153.47 382.39,154.48 384.10,155.20 C382.39,155.92 381.14,156.93 380.30,157.60 C379.46,156.93 378.21,155.92 376.50,155.20 Z" fill="#197a6e" stroke="#12574f" stroke-width="0.45"/>
<line x1="389.00" y1="151.80" x2="389.00" y2="159.80" stroke="#197a6e" stroke-width="0.35" opacity="0.6"/>
<path d="M385.20,155.20 C386.91,154.48 388.16,153.47 389.00,152.80 C389.84,153.47 391.09,154.48 392.80,155.20 C391.09,155.92 389.84,156.93 389.00,157.60 C388.16,156.93 386.91,155.92 385.20,155.20 Z" fill="#197a6e" stroke="#12574f" stroke-width="0.45"/>
<line x1="400.20" y1="151.80" x2="400.20" y2="159.80" stroke="#197a6e" stroke-width="0.35" opacity="0.6"/>
<path d="M396.40,155.20 C398.11,154.48 399.36,153.47 400.20,152.80 C401.04,153.47 402.29,154.48 404.00,155.20 C402.29,155.92 401.04,156.93 400.20,157.60 C399.36,156.93 398.11,155.92 396.40,155.20 Z" fill="#197a6e" stroke="#12574f" stroke-width="0.45"/>
<line x1="408.90" y1="151.80" x2="408.90" y2="159.80" stroke="#197a6e" stroke-width="0.35" opacity="0.6"/>
<path d="M405.10,155.20 C406.81,154.48 408.06,153.47 408.90,152.80 C409.74,153.47 410.99,154.48 412.70,155.20 C410.99,155.92 409.74,156.93 408.90,157.60 C408.06,156.93 406.81,155.92 405.10,155.20 Z" fill="#197a6e" stroke="#12574f" stroke-width="0.45"/>
<line x1="417.60" y1="151.80" x2="417.60" y2="159.80" stroke="#197a6e" stroke-width="0.35" opacity="0.6"/>
<path d="M413.80,155.20 C415.51,154.48 416.76,153.47 417.60,152.80 C418.44,153.47 419.69,154.48 421.40,155.20 C419.69,155.92 418.44,156.93 417.60,157.60 C416.76,156.93 415.51,155.92 413.80,155.20 Z" fill="#197a6e" stroke="#12574f" stroke-width="0.45"/>
<line x1="426.30" y1="151.80" x2="426.30" y2="159.80" stroke="#197a6e" stroke-width="0.35" opacity="0.6"/>
<path d="M422.50,155.20 C424.21,154.48 425.46,153.47 426.30,152.80 C427.14,153.47 428.39,154.48 430.10,155.20 C428.39,155.92 427.14,156.93 426.30,157.60 C425.46,156.93 424.21,155.92 422.50,155.20 Z" fill="#197a6e" stroke="#12574f" stroke-width="0.45"/>
<line x1="438.20" y1="152.80" x2="438.20" y2="158.80" stroke="#197a6e" stroke-width="0.35" opacity="0.6"/>
<path d="M434.96,155.20 C436.42,154.78 437.49,154.19 438.20,153.80 C438.91,154.19 439.98,154.78 441.44,155.20 C439.98,155.62 438.91,156.21 438.20,156.60 C437.49,156.21 436.42,155.62 434.96,155.20 Z" fill="#197a6e" stroke="#12574f" stroke-width="0.45"/>
<line x1="446.90" y1="152.80" x2="446.90" y2="158.80" stroke="#197a6e" stroke-width="0.35" opacity="0.6"/>
<path d="M443.66,155.20 C445.12,154.78 446.19,154.19 446.90,153.80 C447.61,154.19 448.68,154.78 450.14,155.20 C448.68,155.62 447.61,156.21 446.90,156.60 C446.19,156.21 445.12,155.62 443.66,155.20 Z" fill="#197a6e" stroke="#12574f" stroke-width="0.45"/>
<line x1="455.60" y1="152.80" x2="455.60" y2="158.80" stroke="#197a6e" stroke-width="0.35" opacity="0.6"/>
<path d="M452.36,155.20 C453.82,154.78 454.89,154.19 455.60,153.80 C456.31,154.19 457.38,154.78 458.84,155.20 C457.38,155.62 456.31,156.21 455.60,156.60 C454.89,156.21 453.82,155.62 452.36,155.20 Z" fill="#197a6e" stroke="#12574f" stroke-width="0.45"/>
<line x1="464.30" y1="152.80" x2="464.30" y2="158.80" stroke="#197a6e" stroke-width="0.35" opacity="0.6"/>
<path d="M461.06,155.20 C462.52,154.78 463.59,154.19 464.30,153.80 C465.01,154.19 466.08,154.78 467.54,155.20 C466.08,155.62 465.01,156.21 464.30,156.60 C463.59,156.21 462.52,155.62 461.06,155.20 Z" fill="#197a6e" stroke="#12574f" stroke-width="0.45"/>
<line x1="288.40" y1="163.15" x2="288.40" y2="170.75" stroke="#197a6e" stroke-width="0.35" opacity="0.6"/>
<path d="M285.16,166.35 C286.62,165.69 287.69,164.77 288.40,164.15 C289.11,164.77 290.18,165.69 291.64,166.35 C290.18,167.01 289.11,167.93 288.40,168.55 C287.69,167.93 286.62,167.01 285.16,166.35 Z" fill="#197a6e" stroke="#12574f" stroke-width="0.45"/>
<line x1="297.10" y1="162.35" x2="297.10" y2="171.55" stroke="#22966f" stroke-width="0.35" opacity="0.6"/>
<path d="M293.54,166.35 C295.14,165.45 296.32,164.19 297.10,163.35 C297.88,164.19 299.06,165.45 300.66,166.35 C299.06,167.25 297.88,168.51 297.10,169.35 C296.32,168.51 295.14,167.25 293.54,166.35 Z" fill="#22966f" stroke="#186c4f" stroke-width="0.45"/>
<line x1="305.80" y1="163.75" x2="305.80" y2="170.15" stroke="#197a6e" stroke-width="0.35" opacity="0.6"/>
<path d="M302.24,166.35 C303.84,165.87 305.02,165.20 305.80,164.75 C306.58,165.20 307.76,165.87 309.36,166.35 C307.76,166.83 306.58,167.50 305.80,167.95 C305.02,167.50 303.84,166.83 302.24,166.35 Z" fill="#197a6e" stroke="#12574f" stroke-width="0.45"/>
<line x1="314.50" y1="163.75" x2="314.50" y2="170.15" stroke="#7fc05e" stroke-width="0.35" opacity="0.6"/>
<path d="M310.94,166.35 C312.54,165.87 313.72,165.20 314.50,164.75 C315.28,165.20 316.46,165.87 318.06,166.35 C316.46,166.83 315.28,167.50 314.50,167.95 C313.72,167.50 312.54,166.83 310.94,166.35 Z" fill="#7fc05e" stroke="#5b8a43" stroke-width="0.45"/>
<line x1="325.70" y1="162.95" x2="325.70" y2="170.95" stroke="#197a6e" stroke-width="0.35" opacity="0.6"/>
<path d="M321.90,166.35 C323.61,165.63 324.86,164.62 325.70,163.95 C326.54,164.62 327.79,165.63 329.50,166.35 C327.79,167.07 326.54,168.08 325.70,168.75 C324.86,168.08 323.61,167.07 321.90,166.35 Z" fill="#197a6e" stroke="#12574f" stroke-width="0.45"/>
<line x1="334.40" y1="162.95" x2="334.40" y2="170.95" stroke="#197a6e" stroke-width="0.35" opacity="0.6"/>
<path d="M330.60,166.35 C332.31,165.63 333.56,164.62 334.40,163.95 C335.24,164.62 336.49,165.63 338.20,166.35 C336.49,167.07 335.24,168.08 334.40,168.75 C333.56,168.08 332.31,167.07 330.60,166.35 Z" fill="#197a6e" stroke="#12574f" stroke-width="0.45"/>
<line x1="343.10" y1="162.95" x2="343.10" y2="170.95" stroke="#197a6e" stroke-width="0.35" opacity="0.6"/>
<path d="M339.30,166.35 C341.01,165.63 342.26,164.62 343.10,163.95 C343.94,164.62 345.19,165.63 346.90,166.35 C345.19,167.07 343.94,168.08 343.10,168.75 C342.26,168.08 341.01,167.07 339.30,166.35 Z" fill="#197a6e" stroke="#12574f" stroke-width="0.45"/>
<line x1="351.80" y1="162.95" x2="351.80" y2="170.95" stroke="#197a6e" stroke-width="0.35" opacity="0.6"/>
<path d="M348.00,166.35 C349.71,165.63 350.96,164.62 351.80,163.95 C352.64,164.62 353.89,165.63 355.60,166.35 C353.89,167.07 352.64,168.08 351.80,168.75 C350.96,168.08 349.71,167.07 348.00,166.35 Z" fill="#197a6e" stroke="#12574f" stroke-width="0.45"/>
<line x1="362.90" y1="162.95" x2="362.90" y2="170.95" stroke="#197a6e" stroke-width="0.35" opacity="0.6"/>
<path d="M359.10,166.35 C360.81,165.63 362.06,164.62 362.90,163.95 C363.74,164.62 364.99,165.63 366.70,166.35 C364.99,167.07 363.74,168.08 362.90,168.75 C362.06,168.08 360.81,167.07 359.10,166.35 Z" fill="#197a6e" stroke="#12574f" stroke-width="0.45"/>
<line x1="371.60" y1="162.95" x2="371.60" y2="170.95" stroke="#197a6e" stroke-width="0.35" opacity="0.6"/>
<path d="M367.80,166.35 C369.51,165.63 370.76,164.62 371.60,163.95 C372.44,164.62 373.69,165.63 375.40,166.35 C373.69,167.07 372.44,168.08 371.60,168.75 C370.76,168.08 369.51,167.07 367.80,166.35 Z" fill="#197a6e" stroke="#12574f" stroke-width="0.45"/>
<line x1="380.30" y1="162.95" x2="380.30" y2="170.95" stroke="#197a6e" stroke-width="0.35" opacity="0.6"/>
<path d="M376.50,166.35 C378.21,165.63 379.46,164.62 380.30,163.95 C381.14,164.62 382.39,165.63 384.10,166.35 C382.39,167.07 381.14,168.08 380.30,168.75 C379.46,168.08 378.21,167.07 376.50,166.35 Z" fill="#197a6e" stroke="#12574f" stroke-width="0.45"/>
<line x1="389.00" y1="162.95" x2="389.00" y2="170.95" stroke="#197a6e" stroke-width="0.35" opacity="0.6"/>
<path d="M385.20,166.35 C386.91,165.63 388.16,164.62 389.00,163.95 C389.84,164.62 391.09,165.63 392.80,166.35 C391.09,167.07 389.84,168.08 389.00,168.75 C388.16,168.08 386.91,167.07 385.20,166.35 Z" fill="#197a6e" stroke="#12574f" stroke-width="0.45"/>
<line x1="400.20" y1="162.95" x2="400.20" y2="170.95" stroke="#197a6e" stroke-width="0.35" opacity="0.6"/>
<path d="M396.40,166.35 C398.11,165.63 399.36,164.62 400.20,163.95 C401.04,164.62 402.29,165.63 404.00,166.35 C402.29,167.07 401.04,168.08 400.20,168.75 C399.36,168.08 398.11,167.07 396.40,166.35 Z" fill="#197a6e" stroke="#12574f" stroke-width="0.45"/>
<line x1="408.90" y1="163.75" x2="408.90" y2="170.15" stroke="#197a6e" stroke-width="0.35" opacity="0.6"/>
<path d="M405.44,166.35 C407.00,165.87 408.14,165.20 408.90,164.75 C409.66,165.20 410.80,165.87 412.36,166.35 C410.80,166.83 409.66,167.50 408.90,167.95 C408.14,167.50 407.00,166.83 405.44,166.35 Z" fill="#197a6e" stroke="#12574f" stroke-width="0.45"/>
<line x1="417.60" y1="162.95" x2="417.60" y2="170.95" stroke="#197a6e" stroke-width="0.35" opacity="0.6"/>
<path d="M413.80,166.35 C415.51,165.63 416.76,164.62 417.60,163.95 C418.44,164.62 419.69,165.63 421.40,166.35 C419.69,167.07 418.44,168.08 417.60,168.75 C416.76,168.08 415.51,167.07 413.80,166.35 Z" fill="#197a6e" stroke="#12574f" stroke-width="0.45"/>
<line x1="426.30" y1="162.95" x2="426.30" y2="170.95" stroke="#197a6e" stroke-width="0.35" opacity="0.6"/>
<path d="M422.50,166.35 C424.21,165.63 425.46,164.62 426.30,163.95 C427.14,164.62 428.39,165.63 430.10,166.35 C428.39,167.07 427.14,168.08 426.30,168.75 C425.46,168.08 424.21,167.07 422.50,166.35 Z" fill="#197a6e" stroke="#12574f" stroke-width="0.45"/>
<line x1="438.20" y1="163.95" x2="438.20" y2="169.95" stroke="#197a6e" stroke-width="0.35" opacity="0.6"/>
<path d="M434.96,166.35 C436.42,165.93 437.49,165.34 438.20,164.95 C438.91,165.34 439.98,165.93 441.44,166.35 C439.98,166.77 438.91,167.36 438.20,167.75 C437.49,167.36 436.42,166.77 434.96,166.35 Z" fill="#197a6e" stroke="#12574f" stroke-width="0.45"/>
<line x1="446.90" y1="163.95" x2="446.90" y2="169.95" stroke="#197a6e" stroke-width="0.35" opacity="0.6"/>
<path d="M443.66,166.35 C445.12,165.93 446.19,165.34 446.90,164.95 C447.61,165.34 448.68,165.93 450.14,166.35 C448.68,166.77 447.61,167.36 446.90,167.75 C446.19,167.36 445.12,166.77 443.66,166.35 Z" fill="#197a6e" stroke="#12574f" stroke-width="0.45"/>
<line x1="455.60" y1="163.95" x2="455.60" y2="169.95" stroke="#197a6e" stroke-width="0.35" opacity="0.6"/>
<path d="M452.36,166.35 C453.82,165.93 454.89,165.34 455.60,164.95 C456.31,165.34 457.38,165.93 458.84,166.35 C457.38,166.77 456.31,167.36 455.60,167.75 C454.89,167.36 453.82,166.77 452.36,166.35 Z" fill="#197a6e" stroke="#12574f" stroke-width="0.45"/>
<line x1="464.30" y1="163.95" x2="464.30" y2="169.95" stroke="#197a6e" stroke-width="0.35" opacity="0.6"/>
<path d="M461.06,166.35 C462.52,165.93 463.59,165.34 464.30,164.95 C465.01,165.34 466.08,165.93 467.54,166.35 C466.08,166.77 465.01,167.36 464.30,167.75 C463.59,167.36 462.52,166.77 461.06,166.35 Z" fill="#197a6e" stroke="#12574f" stroke-width="0.45"/>
<line x1="288.40" y1="174.30" x2="288.40" y2="181.90" stroke="#197a6e" stroke-width="0.35" opacity="0.6"/>
<path d="M285.16,177.50 C286.62,176.84 287.69,175.92 288.40,175.30 C289.11,175.92 290.18,176.84 291.64,177.50 C290.18,178.16 289.11,179.08 288.40,179.70 C287.69,179.08 286.62,178.16 285.16,177.50 Z" fill="#197a6e" stroke="#12574f" stroke-width="0.45"/>
<line x1="297.10" y1="174.50" x2="297.10" y2="181.70" stroke="#7fc05e" stroke-width="0.35" opacity="0.6"/>
<path d="M293.64,177.50 C295.20,176.90 296.34,176.06 297.10,175.50 C297.86,176.06 299.00,176.90 300.56,177.50 C299.00,178.10 297.86,178.94 297.10,179.50 C296.34,178.94 295.20,178.10 293.64,177.50 Z" fill="#7fc05e" stroke="#5b8a43" stroke-width="0.45"/>
<line x1="305.80" y1="173.90" x2="305.80" y2="182.30" stroke="#197a6e" stroke-width="0.35" opacity="0.6"/>
<path d="M302.24,177.50 C303.84,176.72 305.02,175.63 305.80,174.90 C306.58,175.63 307.76,176.72 309.36,177.50 C307.76,178.28 306.58,179.37 305.80,180.10 C305.02,179.37 303.84,178.28 302.24,177.50 Z" fill="#197a6e" stroke="#12574f" stroke-width="0.45"/>
<line x1="314.50" y1="173.50" x2="314.50" y2="182.70" stroke="#22966f" stroke-width="0.35" opacity="0.6"/>
<path d="M310.83,177.50 C312.48,176.60 313.69,175.34 314.50,174.50 C315.31,175.34 316.52,176.60 318.17,177.50 C316.52,178.40 315.31,179.66 314.50,180.50 C313.69,179.66 312.48,178.40 310.83,177.50 Z" fill="#22966f" stroke="#186c4f" stroke-width="0.45"/>
<line x1="325.70" y1="174.10" x2="325.70" y2="182.10" stroke="#1f6383" stroke-width="0.35" opacity="0.6"/>
<path d="M321.90,177.50 C323.61,176.78 324.86,175.77 325.70,175.10 C326.54,175.77 327.79,176.78 329.50,177.50 C327.79,178.22 326.54,179.23 325.70,179.90 C324.86,179.23 323.61,178.22 321.90,177.50 Z" fill="#1f6383" stroke="#16475e" stroke-width="0.45"/>
<line x1="334.40" y1="174.10" x2="334.40" y2="182.10" stroke="#1f6383" stroke-width="0.35" opacity="0.6"/>
<path d="M330.60,177.50 C332.31,176.78 333.56,175.77 334.40,175.10 C335.24,175.77 336.49,176.78 338.20,177.50 C336.49,178.22 335.24,179.23 334.40,179.90 C333.56,179.23 332.31,178.22 330.60,177.50 Z" fill="#1f6383" stroke="#16475e" stroke-width="0.45"/>
<line x1="343.10" y1="174.10" x2="343.10" y2="182.10" stroke="#1f6383" stroke-width="0.35" opacity="0.6"/>
<path d="M339.30,177.50 C341.01,176.78 342.26,175.77 343.10,175.10 C343.94,175.77 345.19,176.78 346.90,177.50 C345.19,178.22 343.94,179.23 343.10,179.90 C342.26,179.23 341.01,178.22 339.30,177.50 Z" fill="#1f6383" stroke="#16475e" stroke-width="0.45"/>
<line x1="351.80" y1="174.10" x2="351.80" y2="182.10" stroke="#1f6383" stroke-width="0.35" opacity="0.6"/>
<path d="M348.00,177.50 C349.71,176.78 350.96,175.77 351.80,175.10 C352.64,175.77 353.89,176.78 355.60,177.50 C353.89,178.22 352.64,179.23 351.80,179.90 C350.96,179.23 349.71,178.22 348.00,177.50 Z" fill="#1f6383" stroke="#16475e" stroke-width="0.45"/>
<line x1="362.90" y1="174.10" x2="362.90" y2="182.10" stroke="#1f6383" stroke-width="0.35" opacity="0.6"/>
<path d="M359.10,177.50 C360.81,176.78 362.06,175.77 362.90,175.10 C363.74,175.77 364.99,176.78 366.70,177.50 C364.99,178.22 363.74,179.23 362.90,179.90 C362.06,179.23 360.81,178.22 359.10,177.50 Z" fill="#1f6383" stroke="#16475e" stroke-width="0.45"/>
<line x1="371.60" y1="174.10" x2="371.60" y2="182.10" stroke="#1f6383" stroke-width="0.35" opacity="0.6"/>
<path d="M367.80,177.50 C369.51,176.78 370.76,175.77 371.60,175.10 C372.44,175.77 373.69,176.78 375.40,177.50 C373.69,178.22 372.44,179.23 371.60,179.90 C370.76,179.23 369.51,178.22 367.80,177.50 Z" fill="#1f6383" stroke="#16475e" stroke-width="0.45"/>
<line x1="380.30" y1="174.10" x2="380.30" y2="182.10" stroke="#1f6383" stroke-width="0.35" opacity="0.6"/>
<path d="M376.50,177.50 C378.21,176.78 379.46,175.77 380.30,175.10 C381.14,175.77 382.39,176.78 384.10,177.50 C382.39,178.22 381.14,179.23 380.30,179.90 C379.46,179.23 378.21,178.22 376.50,177.50 Z" fill="#1f6383" stroke="#16475e" stroke-width="0.45"/>
<line x1="389.00" y1="174.10" x2="389.00" y2="182.10" stroke="#1f6383" stroke-width="0.35" opacity="0.6"/>
<path d="M385.20,177.50 C386.91,176.78 388.16,175.77 389.00,175.10 C389.84,175.77 391.09,176.78 392.80,177.50 C391.09,178.22 389.84,179.23 389.00,179.90 C388.16,179.23 386.91,178.22 385.20,177.50 Z" fill="#1f6383" stroke="#16475e" stroke-width="0.45"/>
<line x1="400.20" y1="174.10" x2="400.20" y2="182.10" stroke="#1f6383" stroke-width="0.35" opacity="0.6"/>
<path d="M396.40,177.50 C398.11,176.78 399.36,175.77 400.20,175.10 C401.04,175.77 402.29,176.78 404.00,177.50 C402.29,178.22 401.04,179.23 400.20,179.90 C399.36,179.23 398.11,178.22 396.40,177.50 Z" fill="#1f6383" stroke="#16475e" stroke-width="0.45"/>
<line x1="408.90" y1="174.90" x2="408.90" y2="181.30" stroke="#1f6383" stroke-width="0.35" opacity="0.6"/>
<path d="M405.44,177.50 C407.00,177.02 408.14,176.35 408.90,175.90 C409.66,176.35 410.80,177.02 412.36,177.50 C410.80,177.98 409.66,178.65 408.90,179.10 C408.14,178.65 407.00,177.98 405.44,177.50 Z" fill="#1f6383" stroke="#16475e" stroke-width="0.45"/>
<line x1="417.60" y1="174.10" x2="417.60" y2="182.10" stroke="#1f6383" stroke-width="0.35" opacity="0.6"/>
<path d="M413.80,177.50 C415.51,176.78 416.76,175.77 417.60,175.10 C418.44,175.77 419.69,176.78 421.40,177.50 C419.69,178.22 418.44,179.23 417.60,179.90 C416.76,179.23 415.51,178.22 413.80,177.50 Z" fill="#1f6383" stroke="#16475e" stroke-width="0.45"/>
<line x1="426.30" y1="174.10" x2="426.30" y2="182.10" stroke="#1f6383" stroke-width="0.35" opacity="0.6"/>
<path d="M422.50,177.50 C424.21,176.78 425.46,175.77 426.30,175.10 C427.14,175.77 428.39,176.78 430.10,177.50 C428.39,178.22 427.14,179.23 426.30,179.90 C425.46,179.23 424.21,178.22 422.50,177.50 Z" fill="#1f6383" stroke="#16475e" stroke-width="0.45"/>
<line x1="438.20" y1="175.10" x2="438.20" y2="181.10" stroke="#197a6e" stroke-width="0.35" opacity="0.6"/>
<path d="M434.96,177.50 C436.42,177.08 437.49,176.49 438.20,176.10 C438.91,176.49 439.98,177.08 441.44,177.50 C439.98,177.92 438.91,178.51 438.20,178.90 C437.49,178.51 436.42,177.92 434.96,177.50 Z" fill="#197a6e" stroke="#12574f" stroke-width="0.45"/>
<line x1="446.90" y1="175.10" x2="446.90" y2="181.10" stroke="#197a6e" stroke-width="0.35" opacity="0.6"/>
<path d="M443.66,177.50 C445.12,177.08 446.19,176.49 446.90,176.10 C447.61,176.49 448.68,177.08 450.14,177.50 C448.68,177.92 447.61,178.51 446.90,178.90 C446.19,178.51 445.12,177.92 443.66,177.50 Z" fill="#197a6e" stroke="#12574f" stroke-width="0.45"/>
<line x1="455.60" y1="175.10" x2="455.60" y2="181.10" stroke="#197a6e" stroke-width="0.35" opacity="0.6"/>
<path d="M452.36,177.50 C453.82,177.08 454.89,176.49 455.60,176.10 C456.31,176.49 457.38,177.08 458.84,177.50 C457.38,177.92 456.31,178.51 455.60,178.90 C454.89,178.51 453.82,177.92 452.36,177.50 Z" fill="#197a6e" stroke="#12574f" stroke-width="0.45"/>
<line x1="464.30" y1="175.10" x2="464.30" y2="181.10" stroke="#197a6e" stroke-width="0.35" opacity="0.6"/>
<path d="M461.06,177.50 C462.52,177.08 463.59,176.49 464.30,176.10 C465.01,176.49 466.08,177.08 467.54,177.50 C466.08,177.92 465.01,178.51 464.30,178.90 C463.59,178.51 462.52,177.92 461.06,177.50 Z" fill="#197a6e" stroke="#12574f" stroke-width="0.45"/>
<line x1="288.40" y1="189.15" x2="288.40" y2="196.35" stroke="#3e1e58" stroke-width="0.35" opacity="0.6"/>
<path d="M285.16,192.15 C286.62,191.55 287.69,190.71 288.40,190.15 C289.11,190.71 290.18,191.55 291.64,192.15 C290.18,192.75 289.11,193.59 288.40,194.15 C287.69,193.59 286.62,192.75 285.16,192.15 Z" fill="#3e1e58" stroke="#2c153f" stroke-width="0.45"/>
<line x1="297.10" y1="189.15" x2="297.10" y2="196.35" stroke="#3e1e58" stroke-width="0.35" opacity="0.6"/>
<path d="M293.64,192.15 C295.20,191.55 296.34,190.71 297.10,190.15 C297.86,190.71 299.00,191.55 300.56,192.15 C299.00,192.75 297.86,193.59 297.10,194.15 C296.34,193.59 295.20,192.75 293.64,192.15 Z" fill="#3e1e58" stroke="#2c153f" stroke-width="0.45"/>
<line x1="305.80" y1="189.35" x2="305.80" y2="196.15" stroke="#3a2f66" stroke-width="0.35" opacity="0.6"/>
<path d="M302.56,192.15 C304.02,191.61 305.09,190.85 305.80,190.35 C306.51,190.85 307.58,191.61 309.04,192.15 C307.58,192.69 306.51,193.45 305.80,193.95 C305.09,193.45 304.02,192.69 302.56,192.15 Z" fill="#3a2f66" stroke="#292149" stroke-width="0.45"/>
<line x1="314.50" y1="189.15" x2="314.50" y2="196.35" stroke="#3e1e58" stroke-width="0.35" opacity="0.6"/>
<path d="M311.26,192.15 C312.72,191.55 313.79,190.71 314.50,190.15 C315.21,190.71 316.28,191.55 317.74,192.15 C316.28,192.75 315.21,193.59 314.50,194.15 C313.79,193.59 312.72,192.75 311.26,192.15 Z" fill="#3e1e58" stroke="#2c153f" stroke-width="0.45"/>
<line x1="325.70" y1="184.65" x2="325.70" y2="193.85" stroke="#22966f" stroke-width="0.35" opacity="0.6"/>
<path d="M321.81,188.65 C323.56,187.75 324.84,186.49 325.70,185.65 C326.56,186.49 327.84,187.75 329.59,188.65 C327.84,189.55 326.56,190.81 325.70,191.65 C324.84,190.81 323.56,189.55 321.81,188.65 Z" fill="#22966f" stroke="#186c4f" stroke-width="0.45"/>
<line x1="334.40" y1="184.65" x2="334.40" y2="193.85" stroke="#22966f" stroke-width="0.35" opacity="0.6"/>
<path d="M330.51,188.65 C332.26,187.75 333.54,186.49 334.40,185.65 C335.26,186.49 336.54,187.75 338.29,188.65 C336.54,189.55 335.26,190.81 334.40,191.65 C333.54,190.81 332.26,189.55 330.51,188.65 Z" fill="#22966f" stroke="#186c4f" stroke-width="0.45"/>
<line x1="343.10" y1="184.85" x2="343.10" y2="193.85" stroke="#22966f" stroke-width="0.35" opacity="0.6"/>
<path d="M339.21,188.65 C340.96,187.81 342.24,186.63 343.10,185.85 C343.96,186.63 345.24,187.81 346.99,188.65 C345.24,189.55 343.96,190.81 343.10,191.65 C342.24,190.81 340.96,189.55 339.21,188.65 Z" fill="#22966f" stroke="#186c4f" stroke-width="0.45"/>
<line x1="351.80" y1="184.65" x2="351.80" y2="193.85" stroke="#22966f" stroke-width="0.35" opacity="0.6"/>
<path d="M347.91,188.65 C349.66,187.75 350.94,186.49 351.80,185.65 C352.66,186.49 353.94,187.75 355.69,188.65 C353.94,189.55 352.66,190.81 351.80,191.65 C350.94,190.81 349.66,189.55 347.91,188.65 Z" fill="#22966f" stroke="#186c4f" stroke-width="0.45"/>
<line x1="362.90" y1="184.85" x2="362.90" y2="193.65" stroke="#9ec85a" stroke-width="0.35" opacity="0.6"/>
<path d="M359.01,188.65 C360.76,187.81 362.04,186.63 362.90,185.85 C363.76,186.63 365.04,187.81 366.79,188.65 C365.04,189.49 363.76,190.67 362.90,191.45 C362.04,190.67 360.76,189.49 359.01,188.65 Z" fill="#9ec85a" stroke="#719040" stroke-width="0.45"/>
<line x1="371.60" y1="184.85" x2="371.60" y2="193.65" stroke="#9ec85a" stroke-width="0.35" opacity="0.6"/>
<path d="M367.71,188.65 C369.46,187.81 370.74,186.63 371.60,185.85 C372.46,186.63 373.74,187.81 375.49,188.65 C373.74,189.49 372.46,190.67 371.60,191.45 C370.74,190.67 369.46,189.49 367.71,188.65 Z" fill="#9ec85a" stroke="#719040" stroke-width="0.45"/>
<line x1="380.30" y1="184.85" x2="380.30" y2="193.65" stroke="#22966f" stroke-width="0.35" opacity="0.6"/>
<path d="M376.41,188.65 C378.16,187.81 379.44,186.63 380.30,185.85 C381.16,186.63 382.44,187.81 384.19,188.65 C382.44,189.49 381.16,190.67 380.30,191.45 C379.44,190.67 378.16,189.49 376.41,188.65 Z" fill="#22966f" stroke="#186c4f" stroke-width="0.45"/>
<line x1="389.00" y1="184.85" x2="389.00" y2="193.65" stroke="#22966f" stroke-width="0.35" opacity="0.6"/>
<path d="M385.11,188.65 C386.86,187.81 388.14,186.63 389.00,185.85 C389.86,186.63 391.14,187.81 392.89,188.65 C391.14,189.49 389.86,190.67 389.00,191.45 C388.14,190.67 386.86,189.49 385.11,188.65 Z" fill="#22966f" stroke="#186c4f" stroke-width="0.45"/>
<line x1="400.20" y1="185.05" x2="400.20" y2="193.45" stroke="#22966f" stroke-width="0.35" opacity="0.6"/>
<path d="M396.53,188.65 C398.18,187.87 399.39,186.78 400.20,186.05 C401.01,186.78 402.22,187.87 403.87,188.65 C402.22,189.43 401.01,190.52 400.20,191.25 C399.39,190.52 398.18,189.43 396.53,188.65 Z" fill="#22966f" stroke="#186c4f" stroke-width="0.45"/>
<line x1="408.90" y1="186.65" x2="408.90" y2="191.85" stroke="#197a6e" stroke-width="0.35" opacity="0.6"/>
<path d="M405.44,188.65 C407.00,188.35 408.14,187.93 408.90,187.65 C409.66,187.93 410.80,188.35 412.36,188.65 C410.80,188.95 409.66,189.37 408.90,189.65 C408.14,189.37 407.00,188.95 405.44,188.65 Z" fill="#197a6e" stroke="#12574f" stroke-width="0.45"/>
<line x1="417.60" y1="184.85" x2="417.60" y2="193.65" stroke="#22966f" stroke-width="0.35" opacity="0.6"/>
<path d="M413.93,188.65 C415.58,187.81 416.79,186.63 417.60,185.85 C418.41,186.63 419.62,187.81 421.27,188.65 C419.62,189.49 418.41,190.67 417.60,191.45 C416.79,190.67 415.58,189.49 413.93,188.65 Z" fill="#22966f" stroke="#186c4f" stroke-width="0.45"/>
<line x1="426.30" y1="184.25" x2="426.30" y2="194.25" stroke="#197a6e" stroke-width="0.35" opacity="0.6"/>
<path d="M422.63,188.65 C424.28,187.63 425.49,186.20 426.30,185.25 C427.11,186.20 428.32,187.63 429.97,188.65 C428.32,189.67 427.11,191.10 426.30,192.05 C425.49,191.10 424.28,189.67 422.63,188.65 Z" fill="#197a6e" stroke="#12574f" stroke-width="0.45"/>
<line x1="438.20" y1="186.35" x2="438.20" y2="192.15" stroke="#1f6383" stroke-width="0.35" opacity="0.6"/>
<path d="M434.96,188.65 C436.42,188.26 437.49,187.71 438.20,187.35 C438.91,187.71 439.98,188.26 441.44,188.65 C439.98,189.04 438.91,189.59 438.20,189.95 C437.49,189.59 436.42,189.04 434.96,188.65 Z" fill="#1f6383" stroke="#16475e" stroke-width="0.45"/>
<line x1="446.90" y1="186.35" x2="446.90" y2="192.15" stroke="#1f6383" stroke-width="0.35" opacity="0.6"/>
<path d="M443.66,188.65 C445.12,188.26 446.19,187.71 446.90,187.35 C447.61,187.71 448.68,188.26 450.14,188.65 C448.68,189.04 447.61,189.59 446.90,189.95 C446.19,189.59 445.12,189.04 443.66,188.65 Z" fill="#1f6383" stroke="#16475e" stroke-width="0.45"/>
<line x1="455.60" y1="186.35" x2="455.60" y2="192.15" stroke="#1f6383" stroke-width="0.35" opacity="0.6"/>
<path d="M452.36,188.65 C453.82,188.26 454.89,187.71 455.60,187.35 C456.31,187.71 457.38,188.26 458.84,188.65 C457.38,189.04 456.31,189.59 455.60,189.95 C454.89,189.59 453.82,189.04 452.36,188.65 Z" fill="#1f6383" stroke="#16475e" stroke-width="0.45"/>
<line x1="464.30" y1="186.35" x2="464.30" y2="192.15" stroke="#1f6383" stroke-width="0.35" opacity="0.6"/>
<path d="M461.06,188.65 C462.52,188.26 463.59,187.71 464.30,187.35 C465.01,187.71 466.08,188.26 467.54,188.65 C466.08,189.04 465.01,189.59 464.30,189.95 C463.59,189.59 462.52,189.04 461.06,188.65 Z" fill="#1f6383" stroke="#16475e" stroke-width="0.45"/>
<line x1="288.40" y1="197.60" x2="288.40" y2="203.40" stroke="#197a6e" stroke-width="0.35" opacity="0.6"/>
<path d="M284.73,199.80 C286.38,199.44 287.59,198.94 288.40,198.60 C289.21,198.94 290.42,199.44 292.07,199.80 C290.42,200.22 289.21,200.81 288.40,201.20 C287.59,200.81 286.38,200.22 284.73,199.80 Z" fill="#197a6e" stroke="#12574f" stroke-width="0.45"/>
<line x1="297.10" y1="197.80" x2="297.10" y2="203.30" stroke="#197a6e" stroke-width="0.35" opacity="0.6"/>
<path d="M293.43,199.80 C295.08,199.50 296.29,199.08 297.10,198.80 C297.91,199.08 299.12,199.50 300.77,199.80 C299.12,200.19 297.91,200.74 297.10,201.10 C296.29,200.74 295.08,200.19 293.43,199.80 Z" fill="#197a6e" stroke="#12574f" stroke-width="0.45"/>
<line x1="305.80" y1="197.40" x2="305.80" y2="203.20" stroke="#22966f" stroke-width="0.35" opacity="0.6"/>
<path d="M302.13,199.80 C303.78,199.38 304.99,198.79 305.80,198.40 C306.61,198.79 307.82,199.38 309.47,199.80 C307.82,200.16 306.61,200.66 305.80,201.00 C304.99,200.66 303.78,200.16 302.13,199.80 Z" fill="#22966f" stroke="#186c4f" stroke-width="0.45"/>
<line x1="314.50" y1="197.80" x2="314.50" y2="203.20" stroke="#1f6383" stroke-width="0.35" opacity="0.6"/>
<path d="M310.83,199.80 C312.48,199.50 313.69,199.08 314.50,198.80 C315.31,199.08 316.52,199.50 318.17,199.80 C316.52,200.16 315.31,200.66 314.50,201.00 C313.69,200.66 312.48,200.16 310.83,199.80 Z" fill="#1f6383" stroke="#16475e" stroke-width="0.45"/>
<line x1="325.70" y1="197.10" x2="325.70" y2="202.90" stroke="#1f6383" stroke-width="0.35" opacity="0.6"/>
<path d="M322.03,199.30 C323.68,198.94 324.89,198.44 325.70,198.10 C326.51,198.44 327.72,198.94 329.37,199.30 C327.72,199.72 326.51,200.31 325.70,200.70 C324.89,200.31 323.68,199.72 322.03,199.30 Z" fill="#1f6383" stroke="#16475e" stroke-width="0.45"/>
<line x1="334.40" y1="195.90" x2="334.40" y2="202.10" stroke="#22966f" stroke-width="0.35" opacity="0.6"/>
<path d="M330.73,197.30 C332.38,197.18 333.59,197.01 334.40,196.90 C335.21,197.01 336.42,197.18 338.07,197.30 C336.42,198.08 335.21,199.17 334.40,199.90 C333.59,199.17 332.38,198.08 330.73,197.30 Z" fill="#22966f" stroke="#186c4f" stroke-width="0.45"/>
<line x1="343.10" y1="199.20" x2="343.10" y2="206.20" stroke="#2b4a7c" stroke-width="0.35" opacity="0.6"/>
<path d="M339.21,200.80 C340.96,200.62 342.24,200.37 343.10,200.20 C343.96,200.37 345.24,200.62 346.99,200.80 C345.24,201.76 343.96,203.10 343.10,204.00 C342.24,203.10 340.96,201.76 339.21,200.80 Z" fill="#2b4a7c" stroke="#1e3559" stroke-width="0.45"/>
<line x1="351.80" y1="197.30" x2="351.80" y2="203.50" stroke="#197a6e" stroke-width="0.35" opacity="0.6"/>
<path d="M348.13,198.80 C349.78,198.65 350.99,198.44 351.80,198.30 C352.61,198.44 353.82,198.65 355.47,198.80 C353.82,199.55 352.61,200.60 351.80,201.30 C350.99,200.60 349.78,199.55 348.13,198.80 Z" fill="#197a6e" stroke="#12574f" stroke-width="0.45"/>
<line x1="362.90" y1="198.00" x2="362.90" y2="203.00" stroke="#2b4a7c" stroke-width="0.35" opacity="0.6"/>
<path d="M359.66,199.80 C361.12,199.56 362.19,199.22 362.90,199.00 C363.61,199.22 364.68,199.56 366.14,199.80 C364.68,200.10 363.61,200.52 362.90,200.80 C362.19,200.52 361.12,200.10 359.66,199.80 Z" fill="#2b4a7c" stroke="#1e3559" stroke-width="0.45"/>
<line x1="371.60" y1="195.90" x2="371.60" y2="201.90" stroke="#22966f" stroke-width="0.35" opacity="0.6"/>
<path d="M367.93,197.30 C369.58,197.18 370.79,197.01 371.60,196.90 C372.41,197.01 373.62,197.18 375.27,197.30 C373.62,198.02 372.41,199.03 371.60,199.70 C370.79,199.03 369.58,198.02 367.93,197.30 Z" fill="#22966f" stroke="#186c4f" stroke-width="0.45"/>
<line x1="380.30" y1="197.40" x2="380.30" y2="203.40" stroke="#22966f" stroke-width="0.35" opacity="0.6"/>
<path d="M376.63,198.80 C378.28,198.68 379.49,198.51 380.30,198.40 C381.11,198.51 382.32,198.68 383.97,198.80 C382.32,199.52 381.11,200.53 380.30,201.20 C379.49,200.53 378.28,199.52 376.63,198.80 Z" fill="#22966f" stroke="#186c4f" stroke-width="0.45"/>
<line x1="389.00" y1="196.40" x2="389.00" y2="202.40" stroke="#22966f" stroke-width="0.35" opacity="0.6"/>
<path d="M385.33,197.80 C386.98,197.68 388.19,197.51 389.00,197.40 C389.81,197.51 391.02,197.68 392.67,197.80 C391.02,198.52 389.81,199.53 389.00,200.20 C388.19,199.53 386.98,198.52 385.33,197.80 Z" fill="#22966f" stroke="#186c4f" stroke-width="0.45"/>
<line x1="400.20" y1="199.80" x2="400.20" y2="205.00" stroke="#3e1e58" stroke-width="0.35" opacity="0.6"/>
<path d="M396.74,201.80 C398.30,201.50 399.44,201.08 400.20,200.80 C400.96,201.08 402.10,201.50 403.66,201.80 C402.10,202.10 400.96,202.52 400.20,202.80 C399.44,202.52 398.30,202.10 396.74,201.80 Z" fill="#3e1e58" stroke="#2c153f" stroke-width="0.45"/>
<line x1="408.90" y1="199.40" x2="408.90" y2="205.40" stroke="#3e1e58" stroke-width="0.35" opacity="0.6"/>
<path d="M405.44,201.80 C407.00,201.38 408.14,200.79 408.90,200.40 C409.66,200.79 410.80,201.38 412.36,201.80 C410.80,202.22 409.66,202.81 408.90,203.20 C408.14,202.81 407.00,202.22 405.44,201.80 Z" fill="#3e1e58" stroke="#2c153f" stroke-width="0.45"/>
<line x1="417.60" y1="199.90" x2="417.60" y2="205.10" stroke="#3e1e58" stroke-width="0.35" opacity="0.6"/>
<path d="M414.14,201.30 C415.70,201.18 416.84,201.01 417.60,200.90 C418.36,201.01 419.50,201.18 421.06,201.30 C419.50,201.78 418.36,202.45 417.60,202.90 C416.84,202.45 415.70,201.78 414.14,201.30 Z" fill="#3e1e58" stroke="#2c153f" stroke-width="0.45"/>
<line x1="426.30" y1="192.90" x2="426.30" y2="200.10" stroke="#22966f" stroke-width="0.35" opacity="0.6"/>
<path d="M422.63,196.30 C424.28,195.58 425.49,194.57 426.30,193.90 C427.11,194.57 428.32,195.58 429.97,196.30 C428.32,196.78 427.11,197.45 426.30,197.90 C425.49,197.45 424.28,196.78 422.63,196.30 Z" fill="#22966f" stroke="#186c4f" stroke-width="0.45"/>
<line x1="438.20" y1="199.40" x2="438.20" y2="204.60" stroke="#3e1e58" stroke-width="0.35" opacity="0.6"/>
<path d="M434.96,201.80 C436.42,201.38 437.49,200.79 438.20,200.40 C438.91,200.79 439.98,201.38 441.44,201.80 C439.98,201.98 438.91,202.23 438.20,202.40 C437.49,202.23 436.42,201.98 434.96,201.80 Z" fill="#3e1e58" stroke="#2c153f" stroke-width="0.45"/>
<line x1="446.90" y1="200.00" x2="446.90" y2="204.80" stroke="#3e1e58" stroke-width="0.35" opacity="0.6"/>
<path d="M443.66,201.80 C445.12,201.56 446.19,201.22 446.90,201.00 C447.61,201.22 448.68,201.56 450.14,201.80 C448.68,202.04 447.61,202.38 446.90,202.60 C446.19,202.38 445.12,202.04 443.66,201.80 Z" fill="#3e1e58" stroke="#2c153f" stroke-width="0.45"/>
<line x1="455.60" y1="200.00" x2="455.60" y2="204.80" stroke="#3e1e58" stroke-width="0.35" opacity="0.6"/>
<path d="M452.36,201.80 C453.82,201.56 454.89,201.22 455.60,201.00 C456.31,201.22 457.38,201.56 458.84,201.80 C457.38,202.04 456.31,202.38 455.60,202.60 C454.89,202.38 453.82,202.04 452.36,201.80 Z" fill="#3e1e58" stroke="#2c153f" stroke-width="0.45"/>
<line x1="464.30" y1="198.40" x2="464.30" y2="204.00" stroke="#1f6383" stroke-width="0.35" opacity="0.6"/>
<path d="M460.63,199.80 C462.28,199.68 463.49,199.51 464.30,199.40 C465.11,199.51 466.32,199.68 467.97,199.80 C466.32,200.40 465.11,201.24 464.30,201.80 C463.49,201.24 462.28,200.40 460.63,199.80 Z" fill="#1f6383" stroke="#16475e" stroke-width="0.45"/>
<text x="204.3" y="67.2" font-size="6.7" fill="#333" stroke="#333" stroke-width="0.18">1</text>
<circle cx="218.5" cy="64.80" r="3" fill="#3aa05a"/>
<text x="225.2" y="67.2" font-size="6.7" fill="#333" stroke="#333" stroke-width="0.18" textLength="51.5" lengthAdjust="spacingAndGlyphs">Active promoters</text>
<text x="204.3" y="78.35" font-size="6.7" fill="#333" stroke="#333" stroke-width="0.18">2</text>
<circle cx="218.5" cy="75.95" r="3" fill="#c4c4c8"/>
<text x="225.2" y="78.35" font-size="6.7" fill="#333" stroke="#333" stroke-width="0.18" textLength="57" lengthAdjust="spacingAndGlyphs">Bivalent promoters</text>
<text x="204.3" y="89.5" font-size="6.7" fill="#333" stroke="#333" stroke-width="0.18">3</text>
<circle cx="218.5" cy="87.10" r="3" fill="#efb4cc"/>
<text x="225.2" y="89.5" font-size="6.7" fill="#333" stroke="#333" stroke-width="0.18" textLength="49.3" lengthAdjust="spacingAndGlyphs">CTCF promoters</text>
<text x="204.3" y="100.65" font-size="6.7" fill="#333" stroke="#333" stroke-width="0.18">4</text>
<circle cx="218.5" cy="98.25" r="3" fill="#f4a460"/>
<text x="225.2" y="100.65" font-size="6.7" fill="#333" stroke="#333" stroke-width="0.18" textLength="30.4" lengthAdjust="spacingAndGlyphs">CTCF only</text>
<text x="204.3" y="111.8" font-size="6.7" fill="#333" stroke="#333" stroke-width="0.18">5</text>
<circle cx="218.5" cy="109.40" r="3" fill="#c89890"/>
<text x="204.3" y="122.95" font-size="6.7" fill="#333" stroke="#333" stroke-width="0.18">6</text>
<circle cx="218.5" cy="120.55" r="3" fill="#1f6fb0"/>
<text x="204.3" y="134.1" font-size="6.7" fill="#333" stroke="#333" stroke-width="0.18">7</text>
<circle cx="218.5" cy="131.70" r="3" fill="#aec7e8"/>
<text x="204.3" y="145.25" font-size="6.7" fill="#333" stroke="#333" stroke-width="0.18">8</text>
<circle cx="218.5" cy="142.85" r="3" fill="#bcbd22"/>
<text x="204.3" y="156.4" font-size="6.7" fill="#333" stroke="#333" stroke-width="0.18">9</text>
<circle cx="218.5" cy="154.00" r="3" fill="#9a70c4"/>
<text x="204.3" y="167.55" font-size="6.7" fill="#333" stroke="#333" stroke-width="0.18">10</text>
<circle cx="218.5" cy="165.15" r="3" fill="#8c564b"/>
<text x="204.3" y="178.7" font-size="6.7" fill="#333" stroke="#333" stroke-width="0.18">11</text>
<circle cx="218.5" cy="176.30" r="3" fill="#d62728"/>
<text x="204.3" y="189.85" font-size="6.7" fill="#333" stroke="#333" stroke-width="0.18">12</text>
<circle cx="218.5" cy="187.45" r="3" fill="#17a2b0"/>
<text x="204.3" y="201.0" font-size="6.7" fill="#333" stroke="#333" stroke-width="0.18">13</text>
<circle cx="218.5" cy="198.60" r="3" fill="#9ed6de"/>
<path d="M224.6,106.5 L231,106.5 L231,180.1 L224.6,180.1" fill="none" stroke="#333" stroke-width="0.7"/>
<text transform="translate(240.4,171.8) rotate(-90)" font-size="6.2" fill="#333" textLength="56.5" lengthAdjust="spacingAndGlyphs">Regulatory regions</text>
<text x="478.2" y="47.3" font-size="6.7" fill="#333" stroke="#333" stroke-width="0.18" textLength="27.4" lengthAdjust="spacingAndGlyphs"># regions</text>
<text x="476" y="54.8" font-size="6.7" fill="#333" stroke="#333" stroke-width="0.18" textLength="31.5" lengthAdjust="spacingAndGlyphs">per cluster</text>
<line x1="492.3" y1="60" x2="492.3" y2="203" stroke="#ccc" stroke-width="0.4" stroke-dasharray="0.8 1.6"/>
<line x1="507.6" y1="60" x2="507.6" y2="203" stroke="#ccc" stroke-width="0.4" stroke-dasharray="0.8 1.6"/>
<rect x="474.6" y="62.10" width="34.60" height="5.4" fill="#7cc47a"/>
<rect x="474.6" y="73.25" width="29.20" height="5.4" fill="#c6c6c6"/>
<rect x="474.6" y="84.40" width="29.40" height="5.4" fill="#f2b6cf"/>
<rect x="474.6" y="95.55" width="34.60" height="5.4" fill="#fcae6b"/>
<rect x="474.6" y="106.70" width="32.40" height="5.4" fill="#c69a93"/>
<rect x="474.6" y="117.85" width="35.20" height="5.4" fill="#1f72b4"/>
<rect x="474.6" y="129.00" width="35.20" height="5.4" fill="#adc6e8"/>
<rect x="474.6" y="140.15" width="28.10" height="5.4" fill="#bfbd2a"/>
<rect x="474.6" y="151.30" width="33.40" height="5.4" fill="#9a6fc2"/>
<rect x="474.6" y="162.45" width="33.40" height="5.4" fill="#92564a"/>
<rect x="474.6" y="173.60" width="33.90" height="5.4" fill="#d92a2a"/>
<rect x="474.6" y="184.75" width="19.40" height="5.4" fill="#1aa0b4"/>
<rect x="474.6" y="195.90" width="10.40" height="5.4" fill="#94d2dc"/>
<line x1="474.4" y1="61.5" x2="474.4" y2="204.5" stroke="#555" stroke-width="0.8"/>
<text x="488.3" y="213.1" font-size="7.4" fill="#333" stroke="#333" stroke-width="0.18" textLength="6.3" lengthAdjust="spacingAndGlyphs">10</text>
<text x="494.9" y="209.6" font-size="4.3" fill="#333" stroke="#333" stroke-width="0.18">2</text>
<text x="503.2" y="213.1" font-size="7.4" fill="#333" stroke="#333" stroke-width="0.18" textLength="6.3" lengthAdjust="spacingAndGlyphs">10</text>
<text x="509.8" y="209.6" font-size="4.3" fill="#333" stroke="#333" stroke-width="0.18">4</text>
<text x="237.4" y="225.8" font-size="6.8" fill="#333" stroke="#333" stroke-width="0.18" textLength="140" lengthAdjust="spacingAndGlyphs">Median log normalised factor signal in clusters</text>
<text x="392" y="230.8" font-size="6.2" font-weight="bold" fill="#111" textLength="11.5" lengthAdjust="spacingAndGlyphs">Min</text>
<text x="453.7" y="230.8" font-size="6.2" font-weight="bold" fill="#111" textLength="12.8" lengthAdjust="spacingAndGlyphs">Max</text>
<rect x="405.9" y="222.5" width="45" height="2" fill="url(#vir)"/>
<rect x="274.2" y="246.6" width="9.6" height="3" fill="#a58cb8" stroke="#555" stroke-width="0.4"/>
<text x="286.2" y="250.3" font-size="6.5" fill="#333" stroke="#333" stroke-width="0.18" textLength="25.8" lengthAdjust="spacingAndGlyphs">HSC-MPP</text>
<rect x="329.8" y="246.6" width="9.6" height="3" fill="#d0ccd2" stroke="#555" stroke-width="0.4"/>
<text x="342" y="250.3" font-size="6.5" fill="#333" stroke="#333" stroke-width="0.18" textLength="13.4" lengthAdjust="spacingAndGlyphs">CMP</text>
<rect x="366.8" y="246.6" width="9.6" height="3" fill="#1d8a5c" stroke="#555" stroke-width="0.4"/>
<text x="378.8" y="250.3" font-size="6.5" fill="#333" stroke="#333" stroke-width="0.18" textLength="14.5" lengthAdjust="spacingAndGlyphs">GMP</text>
<rect x="405.1" y="246.6" width="9.6" height="3" fill="#d77a3c" stroke="#555" stroke-width="0.4"/>
<text x="417.3" y="250.3" font-size="6.5" fill="#333" stroke="#333" stroke-width="0.18" textLength="12.8" lengthAdjust="spacingAndGlyphs">MEP</text>
<text x="7.6" y="284.5" font-size="11.2" font-weight="bold" fill="#111">D</text>
<clipPath id="mainclip"><path d="M7.6,13.8 C11,9 15,5.5 19.3,3.8 C23,2 27,1 30.4,1 C34,1 37,1.3 38.2,2.1 C41,4 43,7 42.7,9.4 C42.5,12 41,14 39.4,15 C36,17 33,18 30.4,18.3 C26,19 22,19.5 19.3,19.4 C14,19 10,17 7.6,13.8 Z"/></clipPath>
<g transform="translate(20.2,310.2)">
<g filter="url(#soft2)">
<path d="M5.5,1.5 C9,1.5 11.5,4.5 11,8 C10.5,12 7.5,16 4.5,19 C2,16.5 0.5,12 0.8,8 C1,4 3,1.5 5.5,1.5 Z" fill="#c7e8da"/>
<path d="M3.7,16 C8,17 14,19 19,19.5 C22,20 25,20.5 26,21.6 C24,25 22,28 19.3,29.4 C15,30 11,29.5 8,28.3 C5,26 3.5,21 3.7,16 Z" fill="#cfe8dc"/>
<path d="M7.6,13.8 C11,9 15,5.5 19.3,3.8 C23,2 27,1 30.4,1 C34,1 37,1.3 38.2,2.1 C41,4 43,7 42.7,9.4 C42.5,12 41,14 39.4,15 C36,17 33,18 30.4,18.3 C26,19 22,19.5 19.3,19.4 C14,19 10,17 7.6,13.8 Z" fill="#bfe3d3"/>
<g clip-path="url(#mainclip)">
<path d="M10.7,12.3 Q23.73,13.90 28.8,3.8 L32.8,-0.20000000000000018 L6.699999999999999,-1.6999999999999993 L6.699999999999999,13.3 Z" fill="#f7d9cb" opacity="1.0"/>
<ellipse cx="17.5" cy="15.2" rx="8.4" ry="3.6" fill="#8ccfb1" transform="rotate(-4 17.5 15.2)"/>
</g>
</g>
<ellipse cx="17.5" cy="15.2" rx="8.4" ry="3.6" fill="none" stroke="#2f5a48" stroke-width="0.8" stroke-dasharray="1 2.4" transform="rotate(-4 17.5 15.2)" opacity="0.75"/>
<path d="M10.7,12.3 Q23.73,13.90 28.8,3.8" fill="none" stroke="#222" stroke-width="1.3" stroke-dasharray="1.2 2.5"/>
</g>
<text x="41.2" y="304.6" font-size="6.6" text-anchor="middle" fill="#333" stroke="#333" stroke-width="0.18">FLI1</text>
<g transform="translate(72.6,310.2)">
<g filter="url(#soft2)">
<path d="M5.5,1.5 C9,1.5 11.5,4.5 11,8 C10.5,12 7.5,16 4.5,19 C2,16.5 0.5,12 0.8,8 C1,4 3,1.5 5.5,1.5 Z" fill="#c4e7d8"/>
<path d="M3.7,16 C8,17 14,19 19,19.5 C22,20 25,20.5 26,21.6 C24,25 22,28 19.3,29.4 C15,30 11,29.5 8,28.3 C5,26 3.5,21 3.7,16 Z" fill="#cbe8dc"/>
<path d="M7.6,13.8 C11,9 15,5.5 19.3,3.8 C23,2 27,1 30.4,1 C34,1 37,1.3 38.2,2.1 C41,4 43,7 42.7,9.4 C42.5,12 41,14 39.4,15 C36,17 33,18 30.4,18.3 C26,19 22,19.5 19.3,19.4 C14,19 10,17 7.6,13.8 Z" fill="#c1e5d5"/>
<g clip-path="url(#mainclip)">
<path d="M13.8,8.8 Q20.06,10.40 22.5,3.7 L26.5,-0.2999999999999998 L9.8,-5.199999999999999 L9.8,9.8 Z" fill="#f9e4dc" opacity="1.0"/>
<ellipse cx="17" cy="13.5" rx="8.4" ry="3.2" fill="#94d3b6" transform="rotate(-4 17 13.5)"/>
</g>
</g>
<ellipse cx="17" cy="13.5" rx="8.4" ry="3.2" fill="none" stroke="#2f5a48" stroke-width="0.8" stroke-dasharray="1 2.4" transform="rotate(-4 17 13.5)" opacity="0.75"/>
<path d="M13.8,8.8 Q20.06,10.40 22.5,3.7" fill="none" stroke="#222" stroke-width="1.3" stroke-dasharray="1.2 2.5"/>
</g>
<text x="93.6" y="304.6" font-size="6.6" text-anchor="middle" fill="#333" stroke="#333" stroke-width="0.18">ERG</text>
<g transform="translate(125,310.2)">
<g filter="url(#soft2)">
<path d="M5.5,1.5 C9,1.5 11.5,4.5 11,8 C10.5,12 7.5,16 4.5,19 C2,16.5 0.5,12 0.8,8 C1,4 3,1.5 5.5,1.5 Z" fill="#e5ebe6"/>
<path d="M3.7,16 C8,17 14,19 19,19.5 C22,20 25,20.5 26,21.6 C24,25 22,28 19.3,29.4 C15,30 11,29.5 8,28.3 C5,26 3.5,21 3.7,16 Z" fill="#e6ebe7"/>
<path d="M7.6,13.8 C11,9 15,5.5 19.3,3.8 C23,2 27,1 30.4,1 C34,1 37,1.3 38.2,2.1 C41,4 43,7 42.7,9.4 C42.5,12 41,14 39.4,15 C36,17 33,18 30.4,18.3 C26,19 22,19.5 19.3,19.4 C14,19 10,17 7.6,13.8 Z" fill="#c9e7da"/>
<g clip-path="url(#mainclip)">
<path d="M13.3,8.3 Q24.39,9.90 28.7,2.2 L32.7,-1.7999999999999998 L9.3,-5.699999999999999 L9.3,9.3 Z" fill="#f6d6ca" opacity="1.0"/>
<ellipse cx="16.5" cy="13.2" rx="8.4" ry="3.3" fill="#abdcc6" transform="rotate(-8 16.5 13.2)"/>
</g>
</g>
<ellipse cx="16.5" cy="13.2" rx="8.4" ry="3.3" fill="none" stroke="#2f5a48" stroke-width="0.8" stroke-dasharray="1 2.4" transform="rotate(-8 16.5 13.2)" opacity="0.75"/>
<path d="M13.3,8.3 Q24.39,9.90 28.7,2.2" fill="none" stroke="#222" stroke-width="1.3" stroke-dasharray="1.2 2.5"/>
</g>
<text x="146" y="304.6" font-size="6.6" text-anchor="middle" fill="#333" stroke="#333" stroke-width="0.18">GATA2</text>
<g transform="translate(176.8,310.2)">
<g filter="url(#soft2)">
<path d="M5.5,1.5 C9,1.5 11.5,4.5 11,8 C10.5,12 7.5,16 4.5,19 C2,16.5 0.5,12 0.8,8 C1,4 3,1.5 5.5,1.5 Z" fill="#c6e8d8"/>
<path d="M3.7,16 C8,17 14,19 19,19.5 C22,20 25,20.5 26,21.6 C24,25 22,28 19.3,29.4 C15,30 11,29.5 8,28.3 C5,26 3.5,21 3.7,16 Z" fill="#cbe7da"/>
<path d="M7.6,13.8 C11,9 15,5.5 19.3,3.8 C23,2 27,1 30.4,1 C34,1 37,1.3 38.2,2.1 C41,4 43,7 42.7,9.4 C42.5,12 41,14 39.4,15 C36,17 33,18 30.4,18.3 C26,19 22,19.5 19.3,19.4 C14,19 10,17 7.6,13.8 Z" fill="#c0e4d3"/>
<g clip-path="url(#mainclip)">
<path d="M10.7,11.4 Q24.02,13.00 29.2,1.6 L33.2,-2.4 L6.699999999999999,-2.5999999999999996 L6.699999999999999,12.4 Z" fill="#f5cdb8" opacity="1.0"/>
<ellipse cx="17.5" cy="15" rx="8.4" ry="3.4" fill="#9ad6ba" transform="rotate(-4 17.5 15)"/>
</g>
</g>
<ellipse cx="17.5" cy="15" rx="8.4" ry="3.4" fill="none" stroke="#2f5a48" stroke-width="0.8" stroke-dasharray="1 2.4" transform="rotate(-4 17.5 15)" opacity="0.75"/>
<path d="M10.7,11.4 Q24.02,13.00 29.2,1.6" fill="none" stroke="#222" stroke-width="1.3" stroke-dasharray="1.2 2.5"/>
</g>
<text x="197.8" y="304.6" font-size="6.6" text-anchor="middle" fill="#333" stroke="#333" stroke-width="0.18">RUNX1</text>
<g transform="translate(230.2,310.2)">
<g filter="url(#soft2)">
<path d="M5.5,1.5 C9,1.5 11.5,4.5 11,8 C10.5,12 7.5,16 4.5,19 C2,16.5 0.5,12 0.8,8 C1,4 3,1.5 5.5,1.5 Z" fill="#d3ebe0"/>
<path d="M3.7,16 C8,17 14,19 19,19.5 C22,20 25,20.5 26,21.6 C24,25 22,28 19.3,29.4 C15,30 11,29.5 8,28.3 C5,26 3.5,21 3.7,16 Z" fill="#ebe5e2"/>
<path d="M7.6,13.8 C11,9 15,5.5 19.3,3.8 C23,2 27,1 30.4,1 C34,1 37,1.3 38.2,2.1 C41,4 43,7 42.7,9.4 C42.5,12 41,14 39.4,15 C36,17 33,18 30.4,18.3 C26,19 22,19.5 19.3,19.4 C14,19 10,17 7.6,13.8 Z" fill="#c2e6d6"/>
<g clip-path="url(#mainclip)">
<path d="M11.2,10.8 Q24.23,12.40 29.3,0.8 L33.3,-3.2 L7.199999999999999,-3.1999999999999993 L7.199999999999999,11.8 Z" fill="#f3bc98" opacity="1.0"/>
<ellipse cx="17.5" cy="15" rx="8.4" ry="3.4" fill="#b9e2d0" transform="rotate(-4 17.5 15)"/>
</g>
</g>
<path d="M11.2,10.8 Q24.23,12.40 29.3,0.8" fill="none" stroke="#222" stroke-width="1.3" stroke-dasharray="1.2 2.5"/>
</g>
<text x="251.2" y="304.6" font-size="6.6" text-anchor="middle" fill="#333" stroke="#333" stroke-width="0.18">TAL1</text>
<g transform="translate(282,310.2)">
<g filter="url(#soft2)">
<path d="M5.5,1.5 C9,1.5 11.5,4.5 11,8 C10.5,12 7.5,16 4.5,19 C2,16.5 0.5,12 0.8,8 C1,4 3,1.5 5.5,1.5 Z" fill="#c9e9dc"/>
<path d="M3.7,16 C8,17 14,19 19,19.5 C22,20 25,20.5 26,21.6 C24,25 22,28 19.3,29.4 C15,30 11,29.5 8,28.3 C5,26 3.5,21 3.7,16 Z" fill="#cfe9de"/>
<path d="M7.6,13.8 C11,9 15,5.5 19.3,3.8 C23,2 27,1 30.4,1 C34,1 37,1.3 38.2,2.1 C41,4 43,7 42.7,9.4 C42.5,12 41,14 39.4,15 C36,17 33,18 30.4,18.3 C26,19 22,19.5 19.3,19.4 C14,19 10,17 7.6,13.8 Z" fill="#c3e6d6"/>
<g clip-path="url(#mainclip)">
<path d="M11.4,10.2 Q24.07,11.80 29,0.8 L33,-3.2 L7.4,-3.8000000000000007 L7.4,11.2 Z" fill="#f4c3a3" opacity="1.0"/>
<ellipse cx="18.7" cy="14.9" rx="8.3" ry="3.5" fill="#9ad4ba" transform="rotate(-4 18.7 14.9)"/>
</g>
</g>
<ellipse cx="18.7" cy="14.9" rx="8.3" ry="3.5" fill="none" stroke="#2f5a48" stroke-width="0.8" stroke-dasharray="1 2.4" transform="rotate(-4 18.7 14.9)" opacity="0.75"/>
<path d="M11.4,10.2 Q24.07,11.80 29,0.8" fill="none" stroke="#222" stroke-width="1.3" stroke-dasharray="1.2 2.5"/>
</g>
<text x="303" y="304.6" font-size="6.6" text-anchor="middle" fill="#333" stroke="#333" stroke-width="0.18">LYL1</text>
<g transform="translate(334.4,310.2)">
<g filter="url(#soft2)">
<path d="M5.5,1.5 C9,1.5 11.5,4.5 11,8 C10.5,12 7.5,16 4.5,19 C2,16.5 0.5,12 0.8,8 C1,4 3,1.5 5.5,1.5 Z" fill="#cde9dc"/>
<path d="M3.7,16 C8,17 14,19 19,19.5 C22,20 25,20.5 26,21.6 C24,25 22,28 19.3,29.4 C15,30 11,29.5 8,28.3 C5,26 3.5,21 3.7,16 Z" fill="#d4eae0"/>
<path d="M7.6,13.8 C11,9 15,5.5 19.3,3.8 C23,2 27,1 30.4,1 C34,1 37,1.3 38.2,2.1 C41,4 43,7 42.7,9.4 C42.5,12 41,14 39.4,15 C36,17 33,18 30.4,18.3 C26,19 22,19.5 19.3,19.4 C14,19 10,17 7.6,13.8 Z" fill="#c3e6d6"/>
<g clip-path="url(#mainclip)">
<path d="M11,9.7 Q24.82,11.30 30.2,0.5 L34.2,-3.5 L7,-4.300000000000001 L7,10.7 Z" fill="#f3bb95" opacity="1.0"/>
<ellipse cx="18" cy="14.5" rx="8.4" ry="3.5" fill="#92d1b5" transform="rotate(-4 18 14.5)"/>
</g>
</g>
<ellipse cx="18" cy="14.5" rx="8.4" ry="3.5" fill="none" stroke="#2f5a48" stroke-width="0.8" stroke-dasharray="1 2.4" transform="rotate(-4 18 14.5)" opacity="0.75"/>
<path d="M11,9.7 Q24.82,11.30 30.2,0.5" fill="none" stroke="#222" stroke-width="1.3" stroke-dasharray="1.2 2.5"/>
</g>
<text x="355.4" y="304.6" font-size="6.6" text-anchor="middle" fill="#333" stroke="#333" stroke-width="0.18">LMO2</text>
<text x="150.5" y="350.5" font-size="6.8" fill="#333" stroke="#333" stroke-width="0.18" textLength="95.5" lengthAdjust="spacingAndGlyphs">Transcription factor fold change</text>
<text x="141" y="360.3" font-size="6.8" fill="#333" stroke="#333" stroke-width="0.18" textLength="29.5" lengthAdjust="spacingAndGlyphs">GMP high</text>
<text x="228" y="360.3" font-size="6.8" fill="#333" stroke="#333" stroke-width="0.18" textLength="29" lengthAdjust="spacingAndGlyphs">MEP high</text>
<rect x="174.5" y="355.8" width="50.5" height="4.6" fill="url(#foldg)" stroke="#888" stroke-width="0.4"/>
<text x="382.2" y="284.4" font-size="11.2" font-weight="bold" fill="#111">E</text>
<text x="450.6" y="284.3" font-size="11.2" font-weight="bold" fill="#111">F</text>
<text x="403.0" y="297.0" font-size="7.0" fill="#333" stroke="#333" stroke-width="0.18" textLength="33.4" lengthAdjust="spacingAndGlyphs">PU.1 signal</text>
<text x="403.0" y="304.9" font-size="7.0" fill="#333" stroke="#333" stroke-width="0.18" textLength="17.4" lengthAdjust="spacingAndGlyphs">in DC</text>
<text x="466.6" y="297.0" font-size="7.0" fill="#333" stroke="#333" stroke-width="0.18" textLength="39.9" lengthAdjust="spacingAndGlyphs">GATA1 signal</text>
<text x="466.6" y="304.9" font-size="7.0" fill="#333" stroke="#333" stroke-width="0.18" textLength="22.4" lengthAdjust="spacingAndGlyphs">in ProE</text>
<g transform="translate(395,309)"><g filter="url(#soft2)">
<path d="M5.5,1.5 C9,1.5 11.5,4.5 11,8 C10.5,12 7.5,16 4.5,19 C2,16.5 0.5,12 0.8,8 C1,4 3,1.5 5.5,1.5 Z" fill="#3d4a8c"/>
<path d="M3.7,16 C8,17 14,19 19,19.5 C22,20 25,20.5 26,21.6 C24,25 22,28 19.3,29.4 C15,30 11,29.5 8,28.3 C5,26 3.5,21 3.7,16 Z" fill="#4a3a88"/>
<path d="M7.6,13.8 C11,9 15,5.5 19.3,3.8 C23,2 27,1 30.4,1 C34,1 37,1.3 38.2,2.1 C41,4 43,7 42.7,9.4 C42.5,12 41,14 39.4,15 C36,17 33,18 30.4,18.3 C26,19 22,19.5 19.3,19.4 C14,19 10,17 7.6,13.8 Z" fill="url(#gE)"/>
<ellipse cx="8.5" cy="16.5" rx="3" ry="1.8" fill="#d8d0ec" opacity="0.8"/>
</g>
<path d="M47.7,11.6 L51.6,13.8" stroke="#5a5a8a" stroke-width="0.8"/>
</g>
<g transform="translate(461,309)"><g filter="url(#soft2)">
<path d="M5.5,1.5 C9,1.5 11.5,4.5 11,8 C10.5,12 7.5,16 4.5,19 C2,16.5 0.5,12 0.8,8 C1,4 3,1.5 5.5,1.5 Z" fill="#30689a"/>
<path d="M3.7,16 C8,17 14,19 19,19.5 C22,20 25,20.5 26,21.6 C24,25 22,28 19.3,29.4 C15,30 11,29.5 8,28.3 C5,26 3.5,21 3.7,16 Z" fill="#2a9a8c"/>
<path d="M7.6,13.8 C11,9 15,5.5 19.3,3.8 C23,2 27,1 30.4,1 C34,1 37,1.3 38.2,2.1 C41,4 43,7 42.7,9.4 C42.5,12 41,14 39.4,15 C36,17 33,18 30.4,18.3 C26,19 22,19.5 19.3,19.4 C14,19 10,17 7.6,13.8 Z" fill="url(#gF)"/>
<ellipse cx="8.5" cy="16.5" rx="3" ry="1.8" fill="#d8d0ec" opacity="0.8"/>
</g>
<path d="M47.7,11.6 L51.6,13.8" stroke="#5a5a8a" stroke-width="0.8"/>
</g>
<text x="415.2" y="351" font-size="6.8" fill="#333" stroke="#333" stroke-width="0.18" textLength="64.4" lengthAdjust="spacingAndGlyphs">log normalised signal</text>
<text x="429.3" y="360.3" font-size="6.8" fill="#333" stroke="#333" stroke-width="0.18">0</text>
<text x="461.4" y="360.3" font-size="6.8" fill="#333" stroke="#333" stroke-width="0.18" textLength="13" lengthAdjust="spacingAndGlyphs">Max</text>
<rect x="436" y="355.8" width="22.8" height="3.8" fill="url(#vir)"/>
<rect x="0.5" y="0.5" width="519" height="368" fill="none" stroke="#4a4a4a" stroke-width="1"/>
</svg>
</body></html>
